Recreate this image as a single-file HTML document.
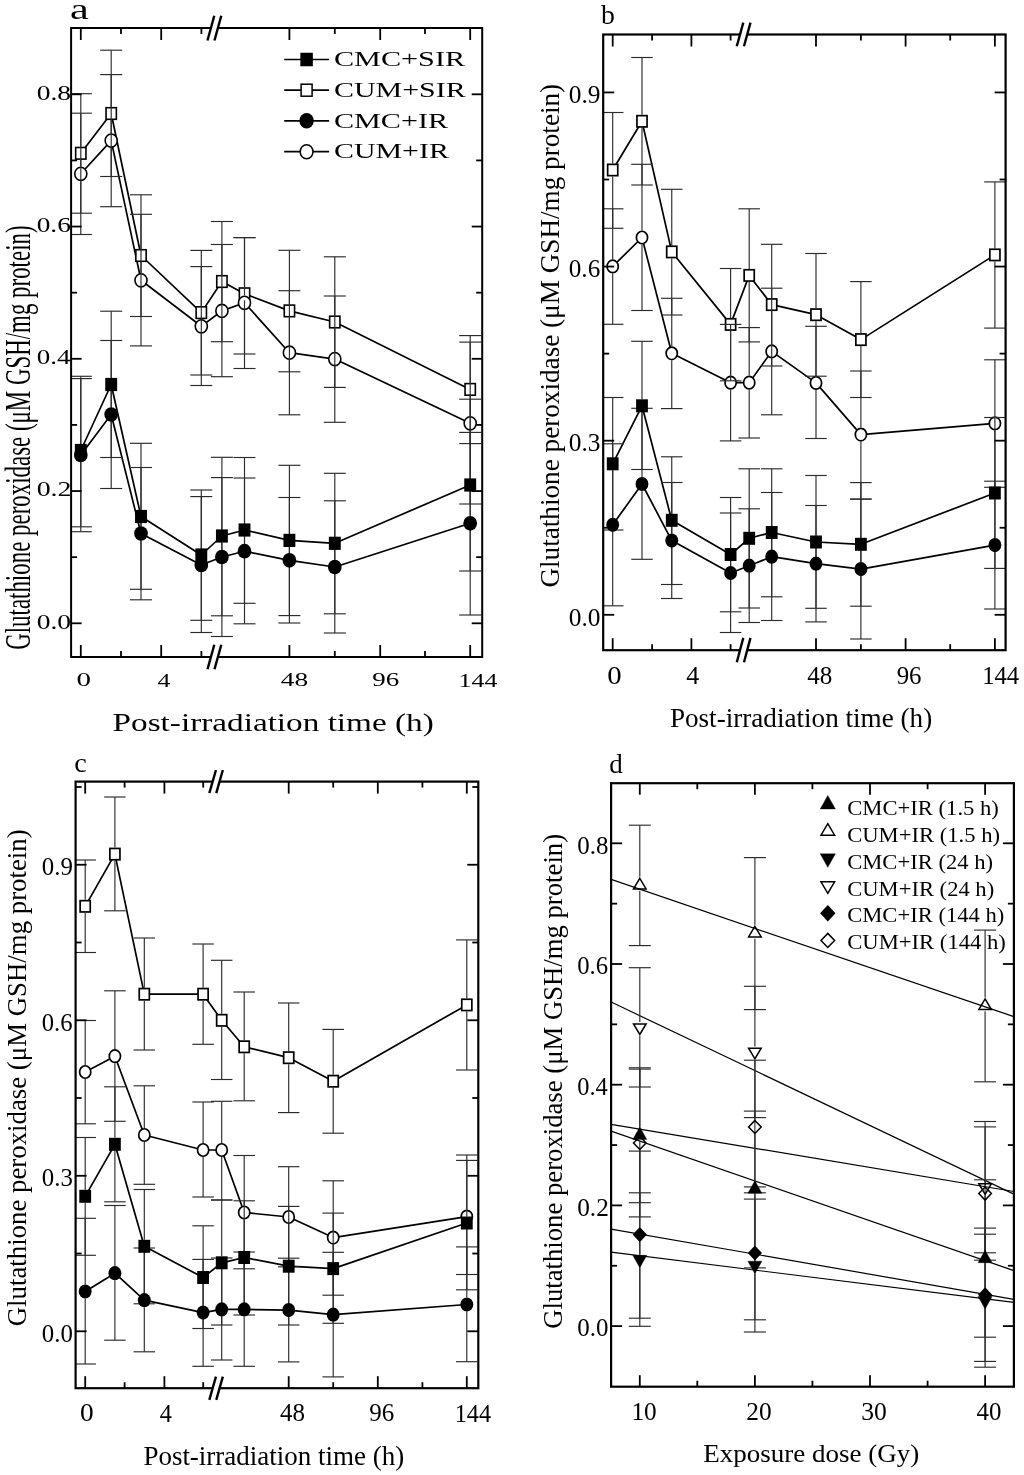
<!DOCTYPE html>
<html><head><meta charset="utf-8"><title>Glutathione peroxidase</title>
<style>html,body{margin:0;padding:0;background:#fff;}svg{display:block;will-change:transform;}text{font-family:"Liberation Serif",serif;}</style></head>
<body><svg width="1024" height="1475" viewBox="0 0 1024 1475">
<rect width="1024" height="1475" fill="#fff"/>
<polyline points="80.80,153.30 111.20,113.50 141.00,255.50 201.30,312.60 221.90,281.50 244.50,293.80 289.40,310.90 334.80,322.00 470.20,389.40" fill="none" stroke="#000" stroke-width="1.7" stroke-linejoin="round"/>
<polyline points="80.80,173.80 111.20,140.60 141.00,280.30 201.30,326.30 221.90,310.90 244.50,302.80 289.40,352.70 334.80,359.10 470.20,423.30" fill="none" stroke="#000" stroke-width="1.7" stroke-linejoin="round"/>
<polyline points="80.80,450.50 111.20,384.50 141.00,516.50 201.30,555.00 221.90,536.00 244.50,530.00 289.40,540.40 334.80,543.30 470.20,485.00" fill="none" stroke="#000" stroke-width="1.7" stroke-linejoin="round"/>
<polyline points="80.80,455.00 111.20,414.50 141.00,533.50 201.30,565.00 221.90,557.00 244.50,551.20 289.40,560.30 334.80,567.00 470.20,523.30" fill="none" stroke="#000" stroke-width="1.7" stroke-linejoin="round"/>
<rect x="75.65" y="147.50" width="10.30" height="11.60" fill="#fff" stroke="#000" stroke-width="1.6"/>
<rect x="106.05" y="107.70" width="10.30" height="11.60" fill="#fff" stroke="#000" stroke-width="1.6"/>
<rect x="135.85" y="249.70" width="10.30" height="11.60" fill="#fff" stroke="#000" stroke-width="1.6"/>
<rect x="196.15" y="306.80" width="10.30" height="11.60" fill="#fff" stroke="#000" stroke-width="1.6"/>
<rect x="216.75" y="275.70" width="10.30" height="11.60" fill="#fff" stroke="#000" stroke-width="1.6"/>
<rect x="239.35" y="288.00" width="10.30" height="11.60" fill="#fff" stroke="#000" stroke-width="1.6"/>
<rect x="284.25" y="305.10" width="10.30" height="11.60" fill="#fff" stroke="#000" stroke-width="1.6"/>
<rect x="329.65" y="316.20" width="10.30" height="11.60" fill="#fff" stroke="#000" stroke-width="1.6"/>
<rect x="465.05" y="383.60" width="10.30" height="11.60" fill="#fff" stroke="#000" stroke-width="1.6"/>
<ellipse cx="80.80" cy="173.80" rx="6.05" ry="6.55" fill="#fff" stroke="#000" stroke-width="1.6"/>
<ellipse cx="111.20" cy="140.60" rx="6.05" ry="6.55" fill="#fff" stroke="#000" stroke-width="1.6"/>
<ellipse cx="141.00" cy="280.30" rx="6.05" ry="6.55" fill="#fff" stroke="#000" stroke-width="1.6"/>
<ellipse cx="201.30" cy="326.30" rx="6.05" ry="6.55" fill="#fff" stroke="#000" stroke-width="1.6"/>
<ellipse cx="221.90" cy="310.90" rx="6.05" ry="6.55" fill="#fff" stroke="#000" stroke-width="1.6"/>
<ellipse cx="244.50" cy="302.80" rx="6.05" ry="6.55" fill="#fff" stroke="#000" stroke-width="1.6"/>
<ellipse cx="289.40" cy="352.70" rx="6.05" ry="6.55" fill="#fff" stroke="#000" stroke-width="1.6"/>
<ellipse cx="334.80" cy="359.10" rx="6.05" ry="6.55" fill="#fff" stroke="#000" stroke-width="1.6"/>
<ellipse cx="470.20" cy="423.30" rx="6.05" ry="6.55" fill="#fff" stroke="#000" stroke-width="1.6"/>
<line x1="80.80" y1="93.70" x2="80.80" y2="146.70" stroke="#2b2b2b" stroke-width="1.15" stroke-linecap="butt"/>
<line x1="80.80" y1="159.90" x2="80.80" y2="213.20" stroke="#2b2b2b" stroke-width="1.15" stroke-linecap="butt"/>
<line x1="71.10" y1="93.70" x2="91.80" y2="93.70" stroke="#2b2b2b" stroke-width="1.15" stroke-linecap="butt"/>
<line x1="71.10" y1="213.20" x2="91.80" y2="213.20" stroke="#2b2b2b" stroke-width="1.15" stroke-linecap="butt"/>
<line x1="111.20" y1="50.20" x2="111.20" y2="106.90" stroke="#2b2b2b" stroke-width="1.15" stroke-linecap="butt"/>
<line x1="111.20" y1="120.10" x2="111.20" y2="176.50" stroke="#2b2b2b" stroke-width="1.15" stroke-linecap="butt"/>
<line x1="100.20" y1="50.20" x2="122.20" y2="50.20" stroke="#2b2b2b" stroke-width="1.15" stroke-linecap="butt"/>
<line x1="100.20" y1="176.50" x2="122.20" y2="176.50" stroke="#2b2b2b" stroke-width="1.15" stroke-linecap="butt"/>
<line x1="141.00" y1="194.80" x2="141.00" y2="248.90" stroke="#2b2b2b" stroke-width="1.15" stroke-linecap="butt"/>
<line x1="141.00" y1="262.10" x2="141.00" y2="316.50" stroke="#2b2b2b" stroke-width="1.15" stroke-linecap="butt"/>
<line x1="130.00" y1="194.80" x2="152.00" y2="194.80" stroke="#2b2b2b" stroke-width="1.15" stroke-linecap="butt"/>
<line x1="130.00" y1="316.50" x2="152.00" y2="316.50" stroke="#2b2b2b" stroke-width="1.15" stroke-linecap="butt"/>
<line x1="201.30" y1="250.40" x2="201.30" y2="306.00" stroke="#2b2b2b" stroke-width="1.15" stroke-linecap="butt"/>
<line x1="201.30" y1="319.20" x2="201.30" y2="375.00" stroke="#2b2b2b" stroke-width="1.15" stroke-linecap="butt"/>
<line x1="190.30" y1="250.40" x2="212.30" y2="250.40" stroke="#2b2b2b" stroke-width="1.15" stroke-linecap="butt"/>
<line x1="190.30" y1="375.00" x2="212.30" y2="375.00" stroke="#2b2b2b" stroke-width="1.15" stroke-linecap="butt"/>
<line x1="221.90" y1="221.50" x2="221.90" y2="274.90" stroke="#2b2b2b" stroke-width="1.15" stroke-linecap="butt"/>
<line x1="221.90" y1="288.10" x2="221.90" y2="341.70" stroke="#2b2b2b" stroke-width="1.15" stroke-linecap="butt"/>
<line x1="210.90" y1="221.50" x2="232.90" y2="221.50" stroke="#2b2b2b" stroke-width="1.15" stroke-linecap="butt"/>
<line x1="210.90" y1="341.70" x2="232.90" y2="341.70" stroke="#2b2b2b" stroke-width="1.15" stroke-linecap="butt"/>
<line x1="244.50" y1="237.60" x2="244.50" y2="287.20" stroke="#2b2b2b" stroke-width="1.15" stroke-linecap="butt"/>
<line x1="244.50" y1="300.40" x2="244.50" y2="354.00" stroke="#2b2b2b" stroke-width="1.15" stroke-linecap="butt"/>
<line x1="233.50" y1="237.60" x2="255.50" y2="237.60" stroke="#2b2b2b" stroke-width="1.15" stroke-linecap="butt"/>
<line x1="233.50" y1="354.00" x2="255.50" y2="354.00" stroke="#2b2b2b" stroke-width="1.15" stroke-linecap="butt"/>
<line x1="289.40" y1="250.30" x2="289.40" y2="304.30" stroke="#2b2b2b" stroke-width="1.15" stroke-linecap="butt"/>
<line x1="289.40" y1="317.50" x2="289.40" y2="371.80" stroke="#2b2b2b" stroke-width="1.15" stroke-linecap="butt"/>
<line x1="278.40" y1="250.30" x2="300.40" y2="250.30" stroke="#2b2b2b" stroke-width="1.15" stroke-linecap="butt"/>
<line x1="278.40" y1="371.80" x2="300.40" y2="371.80" stroke="#2b2b2b" stroke-width="1.15" stroke-linecap="butt"/>
<line x1="334.80" y1="256.80" x2="334.80" y2="315.40" stroke="#2b2b2b" stroke-width="1.15" stroke-linecap="butt"/>
<line x1="334.80" y1="328.60" x2="334.80" y2="387.40" stroke="#2b2b2b" stroke-width="1.15" stroke-linecap="butt"/>
<line x1="323.80" y1="256.80" x2="345.80" y2="256.80" stroke="#2b2b2b" stroke-width="1.15" stroke-linecap="butt"/>
<line x1="323.80" y1="387.40" x2="345.80" y2="387.40" stroke="#2b2b2b" stroke-width="1.15" stroke-linecap="butt"/>
<line x1="470.20" y1="335.60" x2="470.20" y2="382.80" stroke="#2b2b2b" stroke-width="1.15" stroke-linecap="butt"/>
<line x1="470.20" y1="396.00" x2="470.20" y2="443.60" stroke="#2b2b2b" stroke-width="1.15" stroke-linecap="butt"/>
<line x1="459.20" y1="335.60" x2="481.20" y2="335.60" stroke="#2b2b2b" stroke-width="1.15" stroke-linecap="butt"/>
<line x1="459.20" y1="443.60" x2="481.20" y2="443.60" stroke="#2b2b2b" stroke-width="1.15" stroke-linecap="butt"/>
<line x1="80.80" y1="113.20" x2="80.80" y2="166.45" stroke="#2b2b2b" stroke-width="1.15" stroke-linecap="butt"/>
<line x1="80.80" y1="181.15" x2="80.80" y2="234.50" stroke="#2b2b2b" stroke-width="1.15" stroke-linecap="butt"/>
<line x1="71.10" y1="113.20" x2="91.80" y2="113.20" stroke="#2b2b2b" stroke-width="1.15" stroke-linecap="butt"/>
<line x1="71.10" y1="234.50" x2="91.80" y2="234.50" stroke="#2b2b2b" stroke-width="1.15" stroke-linecap="butt"/>
<line x1="111.20" y1="74.60" x2="111.20" y2="133.25" stroke="#2b2b2b" stroke-width="1.15" stroke-linecap="butt"/>
<line x1="111.20" y1="147.95" x2="111.20" y2="206.70" stroke="#2b2b2b" stroke-width="1.15" stroke-linecap="butt"/>
<line x1="100.20" y1="74.60" x2="122.20" y2="74.60" stroke="#2b2b2b" stroke-width="1.15" stroke-linecap="butt"/>
<line x1="100.20" y1="206.70" x2="122.20" y2="206.70" stroke="#2b2b2b" stroke-width="1.15" stroke-linecap="butt"/>
<line x1="141.00" y1="214.30" x2="141.00" y2="272.95" stroke="#2b2b2b" stroke-width="1.15" stroke-linecap="butt"/>
<line x1="141.00" y1="287.65" x2="141.00" y2="345.90" stroke="#2b2b2b" stroke-width="1.15" stroke-linecap="butt"/>
<line x1="130.00" y1="214.30" x2="152.00" y2="214.30" stroke="#2b2b2b" stroke-width="1.15" stroke-linecap="butt"/>
<line x1="130.00" y1="345.90" x2="152.00" y2="345.90" stroke="#2b2b2b" stroke-width="1.15" stroke-linecap="butt"/>
<line x1="201.30" y1="266.60" x2="201.30" y2="318.95" stroke="#2b2b2b" stroke-width="1.15" stroke-linecap="butt"/>
<line x1="201.30" y1="333.65" x2="201.30" y2="385.50" stroke="#2b2b2b" stroke-width="1.15" stroke-linecap="butt"/>
<line x1="190.30" y1="266.60" x2="212.30" y2="266.60" stroke="#2b2b2b" stroke-width="1.15" stroke-linecap="butt"/>
<line x1="190.30" y1="385.50" x2="212.30" y2="385.50" stroke="#2b2b2b" stroke-width="1.15" stroke-linecap="butt"/>
<line x1="221.90" y1="244.50" x2="221.90" y2="303.55" stroke="#2b2b2b" stroke-width="1.15" stroke-linecap="butt"/>
<line x1="221.90" y1="318.25" x2="221.90" y2="376.70" stroke="#2b2b2b" stroke-width="1.15" stroke-linecap="butt"/>
<line x1="210.90" y1="244.50" x2="232.90" y2="244.50" stroke="#2b2b2b" stroke-width="1.15" stroke-linecap="butt"/>
<line x1="210.90" y1="376.70" x2="232.90" y2="376.70" stroke="#2b2b2b" stroke-width="1.15" stroke-linecap="butt"/>
<line x1="244.50" y1="237.60" x2="244.50" y2="295.45" stroke="#2b2b2b" stroke-width="1.15" stroke-linecap="butt"/>
<line x1="244.50" y1="310.15" x2="244.50" y2="368.50" stroke="#2b2b2b" stroke-width="1.15" stroke-linecap="butt"/>
<line x1="233.50" y1="237.60" x2="255.50" y2="237.60" stroke="#2b2b2b" stroke-width="1.15" stroke-linecap="butt"/>
<line x1="233.50" y1="368.50" x2="255.50" y2="368.50" stroke="#2b2b2b" stroke-width="1.15" stroke-linecap="butt"/>
<line x1="289.40" y1="290.70" x2="289.40" y2="345.35" stroke="#2b2b2b" stroke-width="1.15" stroke-linecap="butt"/>
<line x1="289.40" y1="360.05" x2="289.40" y2="414.80" stroke="#2b2b2b" stroke-width="1.15" stroke-linecap="butt"/>
<line x1="278.40" y1="290.70" x2="300.40" y2="290.70" stroke="#2b2b2b" stroke-width="1.15" stroke-linecap="butt"/>
<line x1="278.40" y1="414.80" x2="300.40" y2="414.80" stroke="#2b2b2b" stroke-width="1.15" stroke-linecap="butt"/>
<line x1="334.80" y1="296.00" x2="334.80" y2="351.75" stroke="#2b2b2b" stroke-width="1.15" stroke-linecap="butt"/>
<line x1="334.80" y1="366.45" x2="334.80" y2="422.30" stroke="#2b2b2b" stroke-width="1.15" stroke-linecap="butt"/>
<line x1="323.80" y1="296.00" x2="345.80" y2="296.00" stroke="#2b2b2b" stroke-width="1.15" stroke-linecap="butt"/>
<line x1="323.80" y1="422.30" x2="345.80" y2="422.30" stroke="#2b2b2b" stroke-width="1.15" stroke-linecap="butt"/>
<line x1="470.20" y1="342.10" x2="470.20" y2="415.95" stroke="#2b2b2b" stroke-width="1.15" stroke-linecap="butt"/>
<line x1="470.20" y1="430.65" x2="470.20" y2="504.00" stroke="#2b2b2b" stroke-width="1.15" stroke-linecap="butt"/>
<line x1="459.20" y1="342.10" x2="481.20" y2="342.10" stroke="#2b2b2b" stroke-width="1.15" stroke-linecap="butt"/>
<line x1="459.20" y1="504.00" x2="481.20" y2="504.00" stroke="#2b2b2b" stroke-width="1.15" stroke-linecap="butt"/>
<line x1="80.80" y1="376.30" x2="80.80" y2="443.90" stroke="#2b2b2b" stroke-width="1.15" stroke-linecap="butt"/>
<line x1="80.80" y1="457.10" x2="80.80" y2="526.80" stroke="#2b2b2b" stroke-width="1.15" stroke-linecap="butt"/>
<line x1="71.10" y1="376.30" x2="91.80" y2="376.30" stroke="#2b2b2b" stroke-width="1.15" stroke-linecap="butt"/>
<line x1="71.10" y1="526.80" x2="91.80" y2="526.80" stroke="#2b2b2b" stroke-width="1.15" stroke-linecap="butt"/>
<line x1="111.20" y1="311.20" x2="111.20" y2="377.90" stroke="#2b2b2b" stroke-width="1.15" stroke-linecap="butt"/>
<line x1="111.20" y1="391.10" x2="111.20" y2="457.50" stroke="#2b2b2b" stroke-width="1.15" stroke-linecap="butt"/>
<line x1="100.20" y1="311.20" x2="122.20" y2="311.20" stroke="#2b2b2b" stroke-width="1.15" stroke-linecap="butt"/>
<line x1="100.20" y1="457.50" x2="122.20" y2="457.50" stroke="#2b2b2b" stroke-width="1.15" stroke-linecap="butt"/>
<line x1="141.00" y1="443.30" x2="141.00" y2="509.90" stroke="#2b2b2b" stroke-width="1.15" stroke-linecap="butt"/>
<line x1="141.00" y1="523.10" x2="141.00" y2="589.30" stroke="#2b2b2b" stroke-width="1.15" stroke-linecap="butt"/>
<line x1="130.00" y1="443.30" x2="152.00" y2="443.30" stroke="#2b2b2b" stroke-width="1.15" stroke-linecap="butt"/>
<line x1="130.00" y1="589.30" x2="152.00" y2="589.30" stroke="#2b2b2b" stroke-width="1.15" stroke-linecap="butt"/>
<line x1="201.30" y1="490.00" x2="201.30" y2="548.40" stroke="#2b2b2b" stroke-width="1.15" stroke-linecap="butt"/>
<line x1="201.30" y1="561.60" x2="201.30" y2="620.30" stroke="#2b2b2b" stroke-width="1.15" stroke-linecap="butt"/>
<line x1="190.30" y1="490.00" x2="212.30" y2="490.00" stroke="#2b2b2b" stroke-width="1.15" stroke-linecap="butt"/>
<line x1="190.30" y1="620.30" x2="212.30" y2="620.30" stroke="#2b2b2b" stroke-width="1.15" stroke-linecap="butt"/>
<line x1="221.90" y1="457.30" x2="221.90" y2="529.40" stroke="#2b2b2b" stroke-width="1.15" stroke-linecap="butt"/>
<line x1="221.90" y1="542.60" x2="221.90" y2="615.80" stroke="#2b2b2b" stroke-width="1.15" stroke-linecap="butt"/>
<line x1="210.90" y1="457.30" x2="232.90" y2="457.30" stroke="#2b2b2b" stroke-width="1.15" stroke-linecap="butt"/>
<line x1="210.90" y1="615.80" x2="232.90" y2="615.80" stroke="#2b2b2b" stroke-width="1.15" stroke-linecap="butt"/>
<line x1="244.50" y1="457.50" x2="244.50" y2="523.40" stroke="#2b2b2b" stroke-width="1.15" stroke-linecap="butt"/>
<line x1="244.50" y1="536.60" x2="244.50" y2="603.30" stroke="#2b2b2b" stroke-width="1.15" stroke-linecap="butt"/>
<line x1="233.50" y1="457.50" x2="255.50" y2="457.50" stroke="#2b2b2b" stroke-width="1.15" stroke-linecap="butt"/>
<line x1="233.50" y1="603.30" x2="255.50" y2="603.30" stroke="#2b2b2b" stroke-width="1.15" stroke-linecap="butt"/>
<line x1="289.40" y1="465.30" x2="289.40" y2="533.80" stroke="#2b2b2b" stroke-width="1.15" stroke-linecap="butt"/>
<line x1="289.40" y1="547.00" x2="289.40" y2="615.60" stroke="#2b2b2b" stroke-width="1.15" stroke-linecap="butt"/>
<line x1="278.40" y1="465.30" x2="300.40" y2="465.30" stroke="#2b2b2b" stroke-width="1.15" stroke-linecap="butt"/>
<line x1="278.40" y1="615.60" x2="300.40" y2="615.60" stroke="#2b2b2b" stroke-width="1.15" stroke-linecap="butt"/>
<line x1="334.80" y1="473.30" x2="334.80" y2="536.70" stroke="#2b2b2b" stroke-width="1.15" stroke-linecap="butt"/>
<line x1="334.80" y1="549.90" x2="334.80" y2="613.80" stroke="#2b2b2b" stroke-width="1.15" stroke-linecap="butt"/>
<line x1="323.80" y1="473.30" x2="345.80" y2="473.30" stroke="#2b2b2b" stroke-width="1.15" stroke-linecap="butt"/>
<line x1="323.80" y1="613.80" x2="345.80" y2="613.80" stroke="#2b2b2b" stroke-width="1.15" stroke-linecap="butt"/>
<line x1="470.20" y1="399.20" x2="470.20" y2="478.40" stroke="#2b2b2b" stroke-width="1.15" stroke-linecap="butt"/>
<line x1="470.20" y1="491.60" x2="470.20" y2="571.00" stroke="#2b2b2b" stroke-width="1.15" stroke-linecap="butt"/>
<line x1="459.20" y1="399.20" x2="481.20" y2="399.20" stroke="#2b2b2b" stroke-width="1.15" stroke-linecap="butt"/>
<line x1="459.20" y1="571.00" x2="481.20" y2="571.00" stroke="#2b2b2b" stroke-width="1.15" stroke-linecap="butt"/>
<line x1="80.80" y1="378.60" x2="80.80" y2="447.65" stroke="#2b2b2b" stroke-width="1.15" stroke-linecap="butt"/>
<line x1="80.80" y1="462.35" x2="80.80" y2="531.70" stroke="#2b2b2b" stroke-width="1.15" stroke-linecap="butt"/>
<line x1="71.10" y1="378.60" x2="91.80" y2="378.60" stroke="#2b2b2b" stroke-width="1.15" stroke-linecap="butt"/>
<line x1="71.10" y1="531.70" x2="91.80" y2="531.70" stroke="#2b2b2b" stroke-width="1.15" stroke-linecap="butt"/>
<line x1="111.20" y1="340.50" x2="111.20" y2="407.15" stroke="#2b2b2b" stroke-width="1.15" stroke-linecap="butt"/>
<line x1="111.20" y1="421.85" x2="111.20" y2="488.50" stroke="#2b2b2b" stroke-width="1.15" stroke-linecap="butt"/>
<line x1="100.20" y1="340.50" x2="122.20" y2="340.50" stroke="#2b2b2b" stroke-width="1.15" stroke-linecap="butt"/>
<line x1="100.20" y1="488.50" x2="122.20" y2="488.50" stroke="#2b2b2b" stroke-width="1.15" stroke-linecap="butt"/>
<line x1="141.00" y1="467.50" x2="141.00" y2="526.15" stroke="#2b2b2b" stroke-width="1.15" stroke-linecap="butt"/>
<line x1="141.00" y1="540.85" x2="141.00" y2="599.80" stroke="#2b2b2b" stroke-width="1.15" stroke-linecap="butt"/>
<line x1="130.00" y1="467.50" x2="152.00" y2="467.50" stroke="#2b2b2b" stroke-width="1.15" stroke-linecap="butt"/>
<line x1="130.00" y1="599.80" x2="152.00" y2="599.80" stroke="#2b2b2b" stroke-width="1.15" stroke-linecap="butt"/>
<line x1="201.30" y1="496.60" x2="201.30" y2="557.65" stroke="#2b2b2b" stroke-width="1.15" stroke-linecap="butt"/>
<line x1="201.30" y1="572.35" x2="201.30" y2="632.50" stroke="#2b2b2b" stroke-width="1.15" stroke-linecap="butt"/>
<line x1="190.30" y1="496.60" x2="212.30" y2="496.60" stroke="#2b2b2b" stroke-width="1.15" stroke-linecap="butt"/>
<line x1="190.30" y1="632.50" x2="212.30" y2="632.50" stroke="#2b2b2b" stroke-width="1.15" stroke-linecap="butt"/>
<line x1="221.90" y1="477.60" x2="221.90" y2="549.65" stroke="#2b2b2b" stroke-width="1.15" stroke-linecap="butt"/>
<line x1="221.90" y1="564.35" x2="221.90" y2="636.50" stroke="#2b2b2b" stroke-width="1.15" stroke-linecap="butt"/>
<line x1="210.90" y1="477.60" x2="232.90" y2="477.60" stroke="#2b2b2b" stroke-width="1.15" stroke-linecap="butt"/>
<line x1="210.90" y1="636.50" x2="232.90" y2="636.50" stroke="#2b2b2b" stroke-width="1.15" stroke-linecap="butt"/>
<line x1="244.50" y1="478.00" x2="244.50" y2="543.85" stroke="#2b2b2b" stroke-width="1.15" stroke-linecap="butt"/>
<line x1="244.50" y1="558.55" x2="244.50" y2="623.80" stroke="#2b2b2b" stroke-width="1.15" stroke-linecap="butt"/>
<line x1="233.50" y1="478.00" x2="255.50" y2="478.00" stroke="#2b2b2b" stroke-width="1.15" stroke-linecap="butt"/>
<line x1="233.50" y1="623.80" x2="255.50" y2="623.80" stroke="#2b2b2b" stroke-width="1.15" stroke-linecap="butt"/>
<line x1="289.40" y1="497.50" x2="289.40" y2="552.95" stroke="#2b2b2b" stroke-width="1.15" stroke-linecap="butt"/>
<line x1="289.40" y1="567.65" x2="289.40" y2="623.00" stroke="#2b2b2b" stroke-width="1.15" stroke-linecap="butt"/>
<line x1="278.40" y1="497.50" x2="300.40" y2="497.50" stroke="#2b2b2b" stroke-width="1.15" stroke-linecap="butt"/>
<line x1="278.40" y1="623.00" x2="300.40" y2="623.00" stroke="#2b2b2b" stroke-width="1.15" stroke-linecap="butt"/>
<line x1="334.80" y1="500.80" x2="334.80" y2="559.65" stroke="#2b2b2b" stroke-width="1.15" stroke-linecap="butt"/>
<line x1="334.80" y1="574.35" x2="334.80" y2="633.00" stroke="#2b2b2b" stroke-width="1.15" stroke-linecap="butt"/>
<line x1="323.80" y1="500.80" x2="345.80" y2="500.80" stroke="#2b2b2b" stroke-width="1.15" stroke-linecap="butt"/>
<line x1="323.80" y1="633.00" x2="345.80" y2="633.00" stroke="#2b2b2b" stroke-width="1.15" stroke-linecap="butt"/>
<line x1="470.20" y1="432.40" x2="470.20" y2="515.95" stroke="#2b2b2b" stroke-width="1.15" stroke-linecap="butt"/>
<line x1="470.20" y1="530.65" x2="470.20" y2="615.00" stroke="#2b2b2b" stroke-width="1.15" stroke-linecap="butt"/>
<line x1="459.20" y1="432.40" x2="481.20" y2="432.40" stroke="#2b2b2b" stroke-width="1.15" stroke-linecap="butt"/>
<line x1="459.20" y1="615.00" x2="481.20" y2="615.00" stroke="#2b2b2b" stroke-width="1.15" stroke-linecap="butt"/>
<rect x="74.85" y="443.90" width="11.90" height="13.20" fill="#000"/>
<rect x="105.25" y="377.90" width="11.90" height="13.20" fill="#000"/>
<rect x="135.05" y="509.90" width="11.90" height="13.20" fill="#000"/>
<rect x="195.35" y="548.40" width="11.90" height="13.20" fill="#000"/>
<rect x="215.95" y="529.40" width="11.90" height="13.20" fill="#000"/>
<rect x="238.55" y="523.40" width="11.90" height="13.20" fill="#000"/>
<rect x="283.45" y="533.80" width="11.90" height="13.20" fill="#000"/>
<rect x="328.85" y="536.70" width="11.90" height="13.20" fill="#000"/>
<rect x="464.25" y="478.40" width="11.90" height="13.20" fill="#000"/>
<ellipse cx="80.80" cy="455.00" rx="6.85" ry="7.35" fill="#000"/>
<ellipse cx="111.20" cy="414.50" rx="6.85" ry="7.35" fill="#000"/>
<ellipse cx="141.00" cy="533.50" rx="6.85" ry="7.35" fill="#000"/>
<ellipse cx="201.30" cy="565.00" rx="6.85" ry="7.35" fill="#000"/>
<ellipse cx="221.90" cy="557.00" rx="6.85" ry="7.35" fill="#000"/>
<ellipse cx="244.50" cy="551.20" rx="6.85" ry="7.35" fill="#000"/>
<ellipse cx="289.40" cy="560.30" rx="6.85" ry="7.35" fill="#000"/>
<ellipse cx="334.80" cy="567.00" rx="6.85" ry="7.35" fill="#000"/>
<ellipse cx="470.20" cy="523.30" rx="6.85" ry="7.35" fill="#000"/>
<rect x="71.10" y="28.00" width="411.10" height="629.00" fill="none" stroke="#000" stroke-width="2.0"/>
<line x1="71.10" y1="623.30" x2="81.60" y2="623.30" stroke="#000" stroke-width="1.8" stroke-linecap="butt"/>
<line x1="71.10" y1="491.05" x2="81.60" y2="491.05" stroke="#000" stroke-width="1.8" stroke-linecap="butt"/>
<line x1="71.10" y1="358.80" x2="81.60" y2="358.80" stroke="#000" stroke-width="1.8" stroke-linecap="butt"/>
<line x1="71.10" y1="226.55" x2="81.60" y2="226.55" stroke="#000" stroke-width="1.8" stroke-linecap="butt"/>
<line x1="71.10" y1="94.30" x2="81.60" y2="94.30" stroke="#000" stroke-width="1.8" stroke-linecap="butt"/>
<line x1="71.10" y1="557.17" x2="77.10" y2="557.17" stroke="#000" stroke-width="1.8" stroke-linecap="butt"/>
<line x1="71.10" y1="424.92" x2="77.10" y2="424.92" stroke="#000" stroke-width="1.8" stroke-linecap="butt"/>
<line x1="71.10" y1="292.67" x2="77.10" y2="292.67" stroke="#000" stroke-width="1.8" stroke-linecap="butt"/>
<line x1="71.10" y1="160.43" x2="77.10" y2="160.43" stroke="#000" stroke-width="1.8" stroke-linecap="butt"/>
<line x1="482.20" y1="623.30" x2="471.70" y2="623.30" stroke="#000" stroke-width="1.8" stroke-linecap="butt"/>
<line x1="482.20" y1="491.05" x2="471.70" y2="491.05" stroke="#000" stroke-width="1.8" stroke-linecap="butt"/>
<line x1="482.20" y1="358.80" x2="471.70" y2="358.80" stroke="#000" stroke-width="1.8" stroke-linecap="butt"/>
<line x1="482.20" y1="226.55" x2="471.70" y2="226.55" stroke="#000" stroke-width="1.8" stroke-linecap="butt"/>
<line x1="482.20" y1="94.30" x2="471.70" y2="94.30" stroke="#000" stroke-width="1.8" stroke-linecap="butt"/>
<line x1="482.20" y1="557.17" x2="476.20" y2="557.17" stroke="#000" stroke-width="1.8" stroke-linecap="butt"/>
<line x1="482.20" y1="424.92" x2="476.20" y2="424.92" stroke="#000" stroke-width="1.8" stroke-linecap="butt"/>
<line x1="482.20" y1="292.67" x2="476.20" y2="292.67" stroke="#000" stroke-width="1.8" stroke-linecap="butt"/>
<line x1="482.20" y1="160.43" x2="476.20" y2="160.43" stroke="#000" stroke-width="1.8" stroke-linecap="butt"/>
<line x1="80.80" y1="657.00" x2="80.80" y2="645.00" stroke="#000" stroke-width="1.8" stroke-linecap="butt"/>
<line x1="161.20" y1="657.00" x2="161.20" y2="645.00" stroke="#000" stroke-width="1.8" stroke-linecap="butt"/>
<line x1="289.40" y1="657.00" x2="289.40" y2="645.00" stroke="#000" stroke-width="1.8" stroke-linecap="butt"/>
<line x1="380.20" y1="657.00" x2="380.20" y2="645.00" stroke="#000" stroke-width="1.8" stroke-linecap="butt"/>
<line x1="470.20" y1="657.00" x2="470.20" y2="645.00" stroke="#000" stroke-width="1.8" stroke-linecap="butt"/>
<line x1="121.00" y1="657.00" x2="121.00" y2="651.00" stroke="#000" stroke-width="1.8" stroke-linecap="butt"/>
<line x1="201.40" y1="657.00" x2="201.40" y2="651.00" stroke="#000" stroke-width="1.8" stroke-linecap="butt"/>
<line x1="334.80" y1="657.00" x2="334.80" y2="651.00" stroke="#000" stroke-width="1.8" stroke-linecap="butt"/>
<line x1="425.00" y1="657.00" x2="425.00" y2="651.00" stroke="#000" stroke-width="1.8" stroke-linecap="butt"/>
<line x1="80.80" y1="28.00" x2="80.80" y2="40.00" stroke="#000" stroke-width="1.8" stroke-linecap="butt"/>
<line x1="161.20" y1="28.00" x2="161.20" y2="40.00" stroke="#000" stroke-width="1.8" stroke-linecap="butt"/>
<line x1="289.40" y1="28.00" x2="289.40" y2="40.00" stroke="#000" stroke-width="1.8" stroke-linecap="butt"/>
<line x1="380.20" y1="28.00" x2="380.20" y2="40.00" stroke="#000" stroke-width="1.8" stroke-linecap="butt"/>
<line x1="470.20" y1="28.00" x2="470.20" y2="40.00" stroke="#000" stroke-width="1.8" stroke-linecap="butt"/>
<line x1="121.00" y1="28.00" x2="121.00" y2="34.00" stroke="#000" stroke-width="1.8" stroke-linecap="butt"/>
<line x1="201.40" y1="28.00" x2="201.40" y2="34.00" stroke="#000" stroke-width="1.8" stroke-linecap="butt"/>
<line x1="334.80" y1="28.00" x2="334.80" y2="34.00" stroke="#000" stroke-width="1.8" stroke-linecap="butt"/>
<line x1="425.00" y1="28.00" x2="425.00" y2="34.00" stroke="#000" stroke-width="1.8" stroke-linecap="butt"/>
<rect x="210.90" y="26.00" width="7.00" height="4" fill="#fff"/>
<line x1="207.47" y1="40.50" x2="214.27" y2="15.70" stroke="#000" stroke-width="2.4" stroke-linecap="butt"/>
<line x1="214.47" y1="40.50" x2="221.27" y2="15.70" stroke="#000" stroke-width="2.4" stroke-linecap="butt"/>
<rect x="210.90" y="655.00" width="7.00" height="4" fill="#fff"/>
<line x1="207.50" y1="669.30" x2="214.30" y2="644.70" stroke="#000" stroke-width="2.4" stroke-linecap="butt"/>
<line x1="214.50" y1="669.30" x2="221.30" y2="644.70" stroke="#000" stroke-width="2.4" stroke-linecap="butt"/>
<text x="36.70" y="628.74" font-size="20.44" textLength="34.40" lengthAdjust="spacingAndGlyphs" fill="#000">0.0</text>
<text x="36.68" y="496.49" font-size="20.44" textLength="34.85" lengthAdjust="spacingAndGlyphs" fill="#000">0.2</text>
<text x="36.72" y="364.24" font-size="20.44" textLength="33.68" lengthAdjust="spacingAndGlyphs" fill="#000">0.4</text>
<text x="36.71" y="231.99" font-size="20.44" textLength="34.11" lengthAdjust="spacingAndGlyphs" fill="#000">0.6</text>
<text x="36.70" y="99.74" font-size="20.44" textLength="34.40" lengthAdjust="spacingAndGlyphs" fill="#000">0.8</text>
<text x="76.44" y="686.41" font-size="19.41" textLength="14.52" lengthAdjust="spacingAndGlyphs" fill="#000">0</text>
<text x="157.48" y="686.60" font-size="19.85" textLength="12.90" lengthAdjust="spacingAndGlyphs" fill="#000">4</text>
<text x="280.75" y="686.41" font-size="19.41" textLength="27.34" lengthAdjust="spacingAndGlyphs" fill="#000">48</text>
<text x="372.19" y="686.40" font-size="19.55" textLength="26.91" lengthAdjust="spacingAndGlyphs" fill="#000">96</text>
<text x="458.46" y="686.60" font-size="19.85" textLength="38.92" lengthAdjust="spacingAndGlyphs" fill="#000">144</text>
<text x="112.60" y="731.10" font-size="24.60" textLength="321.18" lengthAdjust="spacingAndGlyphs">Post-irradiation time (h)</text>
<text transform="translate(30.40,649.82) rotate(-90)" x="0" y="0" font-size="35.00" textLength="424.39" lengthAdjust="spacingAndGlyphs">Glutathione peroxidase (μM GSH/mg protein)</text>
<text x="69.92" y="18.71" font-size="28.54" textLength="18.76" lengthAdjust="spacingAndGlyphs" fill="#000">a</text>
<line x1="284.20" y1="59.50" x2="329.10" y2="59.50" stroke="#000" stroke-width="1.7" stroke-linecap="butt"/>
<rect x="300.35" y="52.75" width="12.50" height="13.50" fill="#000"/>
<text x="333.99" y="66.29" font-size="20.75" textLength="131.11" lengthAdjust="spacingAndGlyphs" fill="#000">CMC+SIR</text>
<line x1="284.20" y1="90.20" x2="329.10" y2="90.20" stroke="#000" stroke-width="1.7" stroke-linecap="butt"/>
<rect x="301.10" y="84.20" width="11.00" height="12.00" fill="#fff" stroke="#000" stroke-width="1.5"/>
<text x="334.00" y="96.99" font-size="20.75" textLength="131.71" lengthAdjust="spacingAndGlyphs" fill="#000">CUM+SIR</text>
<line x1="284.20" y1="120.80" x2="329.10" y2="120.80" stroke="#000" stroke-width="1.7" stroke-linecap="butt"/>
<ellipse cx="306.60" cy="120.80" rx="7.15" ry="7.75" fill="#000"/>
<text x="334.00" y="127.59" font-size="20.75" textLength="114.07" lengthAdjust="spacingAndGlyphs" fill="#000">CMC+IR</text>
<line x1="284.20" y1="151.70" x2="329.10" y2="151.70" stroke="#000" stroke-width="1.7" stroke-linecap="butt"/>
<ellipse cx="306.60" cy="151.70" rx="6.40" ry="7.00" fill="#fff" stroke="#000" stroke-width="1.5"/>
<text x="334.00" y="158.49" font-size="20.75" textLength="114.87" lengthAdjust="spacingAndGlyphs" fill="#000">CUM+IR</text>
<polyline points="612.70,170.00 642.00,121.30 671.75,251.90 730.60,324.40 749.20,275.40 771.70,304.60 816.00,314.70 860.90,339.60 994.90,254.90" fill="none" stroke="#000" stroke-width="1.7" stroke-linejoin="round"/>
<polyline points="612.70,266.40 642.00,237.50 671.75,353.30 730.60,382.70 749.20,382.70 771.70,351.40 816.00,382.90 860.90,434.60 994.90,423.40" fill="none" stroke="#000" stroke-width="1.7" stroke-linejoin="round"/>
<polyline points="612.70,463.80 642.00,405.80 671.75,520.30 730.60,554.50 749.20,538.30 771.70,532.50 816.00,542.00 860.90,544.30 994.90,493.00" fill="none" stroke="#000" stroke-width="1.7" stroke-linejoin="round"/>
<polyline points="612.70,524.80 642.00,484.00 671.75,540.60 730.60,573.00 749.20,565.70 771.70,556.70 816.00,563.70 860.90,569.10 994.90,545.10" fill="none" stroke="#000" stroke-width="1.7" stroke-linejoin="round"/>
<rect x="607.65" y="164.35" width="10.10" height="11.30" fill="#fff" stroke="#000" stroke-width="1.7"/>
<rect x="636.95" y="115.65" width="10.10" height="11.30" fill="#fff" stroke="#000" stroke-width="1.7"/>
<rect x="666.70" y="246.25" width="10.10" height="11.30" fill="#fff" stroke="#000" stroke-width="1.7"/>
<rect x="725.55" y="318.75" width="10.10" height="11.30" fill="#fff" stroke="#000" stroke-width="1.7"/>
<rect x="744.15" y="269.75" width="10.10" height="11.30" fill="#fff" stroke="#000" stroke-width="1.7"/>
<rect x="766.65" y="298.95" width="10.10" height="11.30" fill="#fff" stroke="#000" stroke-width="1.7"/>
<rect x="810.95" y="309.05" width="10.10" height="11.30" fill="#fff" stroke="#000" stroke-width="1.7"/>
<rect x="855.85" y="333.95" width="10.10" height="11.30" fill="#fff" stroke="#000" stroke-width="1.7"/>
<rect x="989.85" y="249.25" width="10.10" height="11.30" fill="#fff" stroke="#000" stroke-width="1.7"/>
<ellipse cx="612.70" cy="266.40" rx="5.60" ry="6.25" fill="#fff" stroke="#000" stroke-width="1.7"/>
<ellipse cx="642.00" cy="237.50" rx="5.60" ry="6.25" fill="#fff" stroke="#000" stroke-width="1.7"/>
<ellipse cx="671.75" cy="353.30" rx="5.60" ry="6.25" fill="#fff" stroke="#000" stroke-width="1.7"/>
<ellipse cx="730.60" cy="382.70" rx="5.60" ry="6.25" fill="#fff" stroke="#000" stroke-width="1.7"/>
<ellipse cx="749.20" cy="382.70" rx="5.60" ry="6.25" fill="#fff" stroke="#000" stroke-width="1.7"/>
<ellipse cx="771.70" cy="351.40" rx="5.60" ry="6.25" fill="#fff" stroke="#000" stroke-width="1.7"/>
<ellipse cx="816.00" cy="382.90" rx="5.60" ry="6.25" fill="#fff" stroke="#000" stroke-width="1.7"/>
<ellipse cx="860.90" cy="434.60" rx="5.60" ry="6.25" fill="#fff" stroke="#000" stroke-width="1.7"/>
<ellipse cx="994.90" cy="423.40" rx="5.60" ry="6.25" fill="#fff" stroke="#000" stroke-width="1.7"/>
<line x1="612.70" y1="112.50" x2="612.70" y2="163.50" stroke="#2b2b2b" stroke-width="1.15" stroke-linecap="butt"/>
<line x1="612.70" y1="176.50" x2="612.70" y2="228.30" stroke="#2b2b2b" stroke-width="1.15" stroke-linecap="butt"/>
<line x1="603.20" y1="112.50" x2="623.45" y2="112.50" stroke="#2b2b2b" stroke-width="1.15" stroke-linecap="butt"/>
<line x1="603.20" y1="228.30" x2="623.45" y2="228.30" stroke="#2b2b2b" stroke-width="1.15" stroke-linecap="butt"/>
<line x1="642.00" y1="57.50" x2="642.00" y2="114.80" stroke="#2b2b2b" stroke-width="1.15" stroke-linecap="butt"/>
<line x1="642.00" y1="127.80" x2="642.00" y2="185.00" stroke="#2b2b2b" stroke-width="1.15" stroke-linecap="butt"/>
<line x1="631.25" y1="57.50" x2="652.75" y2="57.50" stroke="#2b2b2b" stroke-width="1.15" stroke-linecap="butt"/>
<line x1="631.25" y1="185.00" x2="652.75" y2="185.00" stroke="#2b2b2b" stroke-width="1.15" stroke-linecap="butt"/>
<line x1="671.75" y1="189.30" x2="671.75" y2="245.40" stroke="#2b2b2b" stroke-width="1.15" stroke-linecap="butt"/>
<line x1="671.75" y1="258.40" x2="671.75" y2="315.00" stroke="#2b2b2b" stroke-width="1.15" stroke-linecap="butt"/>
<line x1="661.00" y1="189.30" x2="682.50" y2="189.30" stroke="#2b2b2b" stroke-width="1.15" stroke-linecap="butt"/>
<line x1="661.00" y1="315.00" x2="682.50" y2="315.00" stroke="#2b2b2b" stroke-width="1.15" stroke-linecap="butt"/>
<line x1="730.60" y1="268.50" x2="730.60" y2="317.90" stroke="#2b2b2b" stroke-width="1.15" stroke-linecap="butt"/>
<line x1="730.60" y1="330.90" x2="730.60" y2="380.80" stroke="#2b2b2b" stroke-width="1.15" stroke-linecap="butt"/>
<line x1="719.85" y1="268.50" x2="741.35" y2="268.50" stroke="#2b2b2b" stroke-width="1.15" stroke-linecap="butt"/>
<line x1="719.85" y1="380.80" x2="741.35" y2="380.80" stroke="#2b2b2b" stroke-width="1.15" stroke-linecap="butt"/>
<line x1="749.20" y1="208.80" x2="749.20" y2="268.90" stroke="#2b2b2b" stroke-width="1.15" stroke-linecap="butt"/>
<line x1="749.20" y1="281.90" x2="749.20" y2="341.90" stroke="#2b2b2b" stroke-width="1.15" stroke-linecap="butt"/>
<line x1="738.45" y1="208.80" x2="759.95" y2="208.80" stroke="#2b2b2b" stroke-width="1.15" stroke-linecap="butt"/>
<line x1="738.45" y1="341.90" x2="759.95" y2="341.90" stroke="#2b2b2b" stroke-width="1.15" stroke-linecap="butt"/>
<line x1="771.70" y1="244.30" x2="771.70" y2="298.10" stroke="#2b2b2b" stroke-width="1.15" stroke-linecap="butt"/>
<line x1="771.70" y1="311.10" x2="771.70" y2="366.00" stroke="#2b2b2b" stroke-width="1.15" stroke-linecap="butt"/>
<line x1="760.95" y1="244.30" x2="782.45" y2="244.30" stroke="#2b2b2b" stroke-width="1.15" stroke-linecap="butt"/>
<line x1="760.95" y1="366.00" x2="782.45" y2="366.00" stroke="#2b2b2b" stroke-width="1.15" stroke-linecap="butt"/>
<line x1="816.00" y1="253.50" x2="816.00" y2="308.20" stroke="#2b2b2b" stroke-width="1.15" stroke-linecap="butt"/>
<line x1="816.00" y1="321.20" x2="816.00" y2="376.20" stroke="#2b2b2b" stroke-width="1.15" stroke-linecap="butt"/>
<line x1="805.25" y1="253.50" x2="826.75" y2="253.50" stroke="#2b2b2b" stroke-width="1.15" stroke-linecap="butt"/>
<line x1="805.25" y1="376.20" x2="826.75" y2="376.20" stroke="#2b2b2b" stroke-width="1.15" stroke-linecap="butt"/>
<line x1="860.90" y1="281.60" x2="860.90" y2="333.10" stroke="#2b2b2b" stroke-width="1.15" stroke-linecap="butt"/>
<line x1="860.90" y1="346.10" x2="860.90" y2="397.50" stroke="#2b2b2b" stroke-width="1.15" stroke-linecap="butt"/>
<line x1="850.15" y1="281.60" x2="871.65" y2="281.60" stroke="#2b2b2b" stroke-width="1.15" stroke-linecap="butt"/>
<line x1="850.15" y1="397.50" x2="871.65" y2="397.50" stroke="#2b2b2b" stroke-width="1.15" stroke-linecap="butt"/>
<line x1="994.90" y1="181.90" x2="994.90" y2="248.40" stroke="#2b2b2b" stroke-width="1.15" stroke-linecap="butt"/>
<line x1="994.90" y1="261.40" x2="994.90" y2="328.10" stroke="#2b2b2b" stroke-width="1.15" stroke-linecap="butt"/>
<line x1="984.15" y1="181.90" x2="1005.60" y2="181.90" stroke="#2b2b2b" stroke-width="1.15" stroke-linecap="butt"/>
<line x1="984.15" y1="328.10" x2="1005.60" y2="328.10" stroke="#2b2b2b" stroke-width="1.15" stroke-linecap="butt"/>
<line x1="612.70" y1="208.80" x2="612.70" y2="259.30" stroke="#2b2b2b" stroke-width="1.15" stroke-linecap="butt"/>
<line x1="612.70" y1="273.50" x2="612.70" y2="324.30" stroke="#2b2b2b" stroke-width="1.15" stroke-linecap="butt"/>
<line x1="603.20" y1="208.80" x2="623.45" y2="208.80" stroke="#2b2b2b" stroke-width="1.15" stroke-linecap="butt"/>
<line x1="603.20" y1="324.30" x2="623.45" y2="324.30" stroke="#2b2b2b" stroke-width="1.15" stroke-linecap="butt"/>
<line x1="642.00" y1="164.30" x2="642.00" y2="230.40" stroke="#2b2b2b" stroke-width="1.15" stroke-linecap="butt"/>
<line x1="642.00" y1="244.60" x2="642.00" y2="310.50" stroke="#2b2b2b" stroke-width="1.15" stroke-linecap="butt"/>
<line x1="631.25" y1="164.30" x2="652.75" y2="164.30" stroke="#2b2b2b" stroke-width="1.15" stroke-linecap="butt"/>
<line x1="631.25" y1="310.50" x2="652.75" y2="310.50" stroke="#2b2b2b" stroke-width="1.15" stroke-linecap="butt"/>
<line x1="671.75" y1="298.30" x2="671.75" y2="346.20" stroke="#2b2b2b" stroke-width="1.15" stroke-linecap="butt"/>
<line x1="671.75" y1="360.40" x2="671.75" y2="408.60" stroke="#2b2b2b" stroke-width="1.15" stroke-linecap="butt"/>
<line x1="661.00" y1="298.30" x2="682.50" y2="298.30" stroke="#2b2b2b" stroke-width="1.15" stroke-linecap="butt"/>
<line x1="661.00" y1="408.60" x2="682.50" y2="408.60" stroke="#2b2b2b" stroke-width="1.15" stroke-linecap="butt"/>
<line x1="730.60" y1="324.40" x2="730.60" y2="375.60" stroke="#2b2b2b" stroke-width="1.15" stroke-linecap="butt"/>
<line x1="730.60" y1="389.80" x2="730.60" y2="440.90" stroke="#2b2b2b" stroke-width="1.15" stroke-linecap="butt"/>
<line x1="719.85" y1="324.40" x2="741.35" y2="324.40" stroke="#2b2b2b" stroke-width="1.15" stroke-linecap="butt"/>
<line x1="719.85" y1="440.90" x2="741.35" y2="440.90" stroke="#2b2b2b" stroke-width="1.15" stroke-linecap="butt"/>
<line x1="749.20" y1="327.60" x2="749.20" y2="375.60" stroke="#2b2b2b" stroke-width="1.15" stroke-linecap="butt"/>
<line x1="749.20" y1="389.80" x2="749.20" y2="438.00" stroke="#2b2b2b" stroke-width="1.15" stroke-linecap="butt"/>
<line x1="738.45" y1="327.60" x2="759.95" y2="327.60" stroke="#2b2b2b" stroke-width="1.15" stroke-linecap="butt"/>
<line x1="738.45" y1="438.00" x2="759.95" y2="438.00" stroke="#2b2b2b" stroke-width="1.15" stroke-linecap="butt"/>
<line x1="771.70" y1="288.20" x2="771.70" y2="344.30" stroke="#2b2b2b" stroke-width="1.15" stroke-linecap="butt"/>
<line x1="771.70" y1="358.50" x2="771.70" y2="414.80" stroke="#2b2b2b" stroke-width="1.15" stroke-linecap="butt"/>
<line x1="760.95" y1="288.20" x2="782.45" y2="288.20" stroke="#2b2b2b" stroke-width="1.15" stroke-linecap="butt"/>
<line x1="760.95" y1="414.80" x2="782.45" y2="414.80" stroke="#2b2b2b" stroke-width="1.15" stroke-linecap="butt"/>
<line x1="816.00" y1="326.30" x2="816.00" y2="375.80" stroke="#2b2b2b" stroke-width="1.15" stroke-linecap="butt"/>
<line x1="816.00" y1="390.00" x2="816.00" y2="438.50" stroke="#2b2b2b" stroke-width="1.15" stroke-linecap="butt"/>
<line x1="805.25" y1="326.30" x2="826.75" y2="326.30" stroke="#2b2b2b" stroke-width="1.15" stroke-linecap="butt"/>
<line x1="805.25" y1="438.50" x2="826.75" y2="438.50" stroke="#2b2b2b" stroke-width="1.15" stroke-linecap="butt"/>
<line x1="860.90" y1="371.00" x2="860.90" y2="427.50" stroke="#2b2b2b" stroke-width="1.15" stroke-linecap="butt"/>
<line x1="860.90" y1="441.70" x2="860.90" y2="499.00" stroke="#2b2b2b" stroke-width="1.15" stroke-linecap="butt"/>
<line x1="850.15" y1="371.00" x2="871.65" y2="371.00" stroke="#2b2b2b" stroke-width="1.15" stroke-linecap="butt"/>
<line x1="850.15" y1="499.00" x2="871.65" y2="499.00" stroke="#2b2b2b" stroke-width="1.15" stroke-linecap="butt"/>
<line x1="994.90" y1="359.80" x2="994.90" y2="416.30" stroke="#2b2b2b" stroke-width="1.15" stroke-linecap="butt"/>
<line x1="994.90" y1="430.50" x2="994.90" y2="487.30" stroke="#2b2b2b" stroke-width="1.15" stroke-linecap="butt"/>
<line x1="984.15" y1="359.80" x2="1005.60" y2="359.80" stroke="#2b2b2b" stroke-width="1.15" stroke-linecap="butt"/>
<line x1="984.15" y1="487.30" x2="1005.60" y2="487.30" stroke="#2b2b2b" stroke-width="1.15" stroke-linecap="butt"/>
<line x1="612.70" y1="397.50" x2="612.70" y2="457.30" stroke="#2b2b2b" stroke-width="1.15" stroke-linecap="butt"/>
<line x1="612.70" y1="470.30" x2="612.70" y2="530.00" stroke="#2b2b2b" stroke-width="1.15" stroke-linecap="butt"/>
<line x1="603.20" y1="397.50" x2="623.45" y2="397.50" stroke="#2b2b2b" stroke-width="1.15" stroke-linecap="butt"/>
<line x1="603.20" y1="530.00" x2="623.45" y2="530.00" stroke="#2b2b2b" stroke-width="1.15" stroke-linecap="butt"/>
<line x1="642.00" y1="341.30" x2="642.00" y2="399.30" stroke="#2b2b2b" stroke-width="1.15" stroke-linecap="butt"/>
<line x1="642.00" y1="412.30" x2="642.00" y2="469.50" stroke="#2b2b2b" stroke-width="1.15" stroke-linecap="butt"/>
<line x1="631.25" y1="341.30" x2="652.75" y2="341.30" stroke="#2b2b2b" stroke-width="1.15" stroke-linecap="butt"/>
<line x1="631.25" y1="469.50" x2="652.75" y2="469.50" stroke="#2b2b2b" stroke-width="1.15" stroke-linecap="butt"/>
<line x1="671.75" y1="456.80" x2="671.75" y2="513.80" stroke="#2b2b2b" stroke-width="1.15" stroke-linecap="butt"/>
<line x1="671.75" y1="526.80" x2="671.75" y2="584.50" stroke="#2b2b2b" stroke-width="1.15" stroke-linecap="butt"/>
<line x1="661.00" y1="456.80" x2="682.50" y2="456.80" stroke="#2b2b2b" stroke-width="1.15" stroke-linecap="butt"/>
<line x1="661.00" y1="584.50" x2="682.50" y2="584.50" stroke="#2b2b2b" stroke-width="1.15" stroke-linecap="butt"/>
<line x1="730.60" y1="497.50" x2="730.60" y2="548.00" stroke="#2b2b2b" stroke-width="1.15" stroke-linecap="butt"/>
<line x1="730.60" y1="561.00" x2="730.60" y2="611.80" stroke="#2b2b2b" stroke-width="1.15" stroke-linecap="butt"/>
<line x1="719.85" y1="497.50" x2="741.35" y2="497.50" stroke="#2b2b2b" stroke-width="1.15" stroke-linecap="butt"/>
<line x1="719.85" y1="611.80" x2="741.35" y2="611.80" stroke="#2b2b2b" stroke-width="1.15" stroke-linecap="butt"/>
<line x1="749.20" y1="468.80" x2="749.20" y2="531.80" stroke="#2b2b2b" stroke-width="1.15" stroke-linecap="butt"/>
<line x1="749.20" y1="544.80" x2="749.20" y2="608.00" stroke="#2b2b2b" stroke-width="1.15" stroke-linecap="butt"/>
<line x1="738.45" y1="468.80" x2="759.95" y2="468.80" stroke="#2b2b2b" stroke-width="1.15" stroke-linecap="butt"/>
<line x1="738.45" y1="608.00" x2="759.95" y2="608.00" stroke="#2b2b2b" stroke-width="1.15" stroke-linecap="butt"/>
<line x1="771.70" y1="468.80" x2="771.70" y2="526.00" stroke="#2b2b2b" stroke-width="1.15" stroke-linecap="butt"/>
<line x1="771.70" y1="539.00" x2="771.70" y2="596.80" stroke="#2b2b2b" stroke-width="1.15" stroke-linecap="butt"/>
<line x1="760.95" y1="468.80" x2="782.45" y2="468.80" stroke="#2b2b2b" stroke-width="1.15" stroke-linecap="butt"/>
<line x1="760.95" y1="596.80" x2="782.45" y2="596.80" stroke="#2b2b2b" stroke-width="1.15" stroke-linecap="butt"/>
<line x1="816.00" y1="475.50" x2="816.00" y2="535.50" stroke="#2b2b2b" stroke-width="1.15" stroke-linecap="butt"/>
<line x1="816.00" y1="548.50" x2="816.00" y2="608.30" stroke="#2b2b2b" stroke-width="1.15" stroke-linecap="butt"/>
<line x1="805.25" y1="475.50" x2="826.75" y2="475.50" stroke="#2b2b2b" stroke-width="1.15" stroke-linecap="butt"/>
<line x1="805.25" y1="608.30" x2="826.75" y2="608.30" stroke="#2b2b2b" stroke-width="1.15" stroke-linecap="butt"/>
<line x1="860.90" y1="482.60" x2="860.90" y2="537.80" stroke="#2b2b2b" stroke-width="1.15" stroke-linecap="butt"/>
<line x1="860.90" y1="550.80" x2="860.90" y2="606.20" stroke="#2b2b2b" stroke-width="1.15" stroke-linecap="butt"/>
<line x1="850.15" y1="482.60" x2="871.65" y2="482.60" stroke="#2b2b2b" stroke-width="1.15" stroke-linecap="butt"/>
<line x1="850.15" y1="606.20" x2="871.65" y2="606.20" stroke="#2b2b2b" stroke-width="1.15" stroke-linecap="butt"/>
<line x1="994.90" y1="417.50" x2="994.90" y2="486.50" stroke="#2b2b2b" stroke-width="1.15" stroke-linecap="butt"/>
<line x1="994.90" y1="499.50" x2="994.90" y2="568.40" stroke="#2b2b2b" stroke-width="1.15" stroke-linecap="butt"/>
<line x1="984.15" y1="417.50" x2="1005.60" y2="417.50" stroke="#2b2b2b" stroke-width="1.15" stroke-linecap="butt"/>
<line x1="984.15" y1="568.40" x2="1005.60" y2="568.40" stroke="#2b2b2b" stroke-width="1.15" stroke-linecap="butt"/>
<line x1="612.70" y1="443.80" x2="612.70" y2="517.70" stroke="#2b2b2b" stroke-width="1.15" stroke-linecap="butt"/>
<line x1="612.70" y1="531.90" x2="612.70" y2="605.80" stroke="#2b2b2b" stroke-width="1.15" stroke-linecap="butt"/>
<line x1="603.20" y1="443.80" x2="623.45" y2="443.80" stroke="#2b2b2b" stroke-width="1.15" stroke-linecap="butt"/>
<line x1="603.20" y1="605.80" x2="623.45" y2="605.80" stroke="#2b2b2b" stroke-width="1.15" stroke-linecap="butt"/>
<line x1="642.00" y1="408.30" x2="642.00" y2="476.90" stroke="#2b2b2b" stroke-width="1.15" stroke-linecap="butt"/>
<line x1="642.00" y1="491.10" x2="642.00" y2="559.30" stroke="#2b2b2b" stroke-width="1.15" stroke-linecap="butt"/>
<line x1="631.25" y1="408.30" x2="652.75" y2="408.30" stroke="#2b2b2b" stroke-width="1.15" stroke-linecap="butt"/>
<line x1="631.25" y1="559.30" x2="652.75" y2="559.30" stroke="#2b2b2b" stroke-width="1.15" stroke-linecap="butt"/>
<line x1="671.75" y1="482.50" x2="671.75" y2="533.50" stroke="#2b2b2b" stroke-width="1.15" stroke-linecap="butt"/>
<line x1="671.75" y1="547.70" x2="671.75" y2="598.50" stroke="#2b2b2b" stroke-width="1.15" stroke-linecap="butt"/>
<line x1="661.00" y1="482.50" x2="682.50" y2="482.50" stroke="#2b2b2b" stroke-width="1.15" stroke-linecap="butt"/>
<line x1="661.00" y1="598.50" x2="682.50" y2="598.50" stroke="#2b2b2b" stroke-width="1.15" stroke-linecap="butt"/>
<line x1="730.60" y1="513.00" x2="730.60" y2="565.90" stroke="#2b2b2b" stroke-width="1.15" stroke-linecap="butt"/>
<line x1="730.60" y1="580.10" x2="730.60" y2="632.50" stroke="#2b2b2b" stroke-width="1.15" stroke-linecap="butt"/>
<line x1="719.85" y1="513.00" x2="741.35" y2="513.00" stroke="#2b2b2b" stroke-width="1.15" stroke-linecap="butt"/>
<line x1="719.85" y1="632.50" x2="741.35" y2="632.50" stroke="#2b2b2b" stroke-width="1.15" stroke-linecap="butt"/>
<line x1="749.20" y1="508.80" x2="749.20" y2="558.60" stroke="#2b2b2b" stroke-width="1.15" stroke-linecap="butt"/>
<line x1="749.20" y1="572.80" x2="749.20" y2="622.50" stroke="#2b2b2b" stroke-width="1.15" stroke-linecap="butt"/>
<line x1="738.45" y1="508.80" x2="759.95" y2="508.80" stroke="#2b2b2b" stroke-width="1.15" stroke-linecap="butt"/>
<line x1="738.45" y1="622.50" x2="759.95" y2="622.50" stroke="#2b2b2b" stroke-width="1.15" stroke-linecap="butt"/>
<line x1="771.70" y1="492.50" x2="771.70" y2="549.60" stroke="#2b2b2b" stroke-width="1.15" stroke-linecap="butt"/>
<line x1="771.70" y1="563.80" x2="771.70" y2="620.50" stroke="#2b2b2b" stroke-width="1.15" stroke-linecap="butt"/>
<line x1="760.95" y1="492.50" x2="782.45" y2="492.50" stroke="#2b2b2b" stroke-width="1.15" stroke-linecap="butt"/>
<line x1="760.95" y1="620.50" x2="782.45" y2="620.50" stroke="#2b2b2b" stroke-width="1.15" stroke-linecap="butt"/>
<line x1="816.00" y1="505.50" x2="816.00" y2="556.60" stroke="#2b2b2b" stroke-width="1.15" stroke-linecap="butt"/>
<line x1="816.00" y1="570.80" x2="816.00" y2="621.90" stroke="#2b2b2b" stroke-width="1.15" stroke-linecap="butt"/>
<line x1="805.25" y1="505.50" x2="826.75" y2="505.50" stroke="#2b2b2b" stroke-width="1.15" stroke-linecap="butt"/>
<line x1="805.25" y1="621.90" x2="826.75" y2="621.90" stroke="#2b2b2b" stroke-width="1.15" stroke-linecap="butt"/>
<line x1="860.90" y1="499.20" x2="860.90" y2="562.00" stroke="#2b2b2b" stroke-width="1.15" stroke-linecap="butt"/>
<line x1="860.90" y1="576.20" x2="860.90" y2="639.00" stroke="#2b2b2b" stroke-width="1.15" stroke-linecap="butt"/>
<line x1="850.15" y1="499.20" x2="871.65" y2="499.20" stroke="#2b2b2b" stroke-width="1.15" stroke-linecap="butt"/>
<line x1="850.15" y1="639.00" x2="871.65" y2="639.00" stroke="#2b2b2b" stroke-width="1.15" stroke-linecap="butt"/>
<line x1="994.90" y1="481.20" x2="994.90" y2="538.00" stroke="#2b2b2b" stroke-width="1.15" stroke-linecap="butt"/>
<line x1="994.90" y1="552.20" x2="994.90" y2="609.00" stroke="#2b2b2b" stroke-width="1.15" stroke-linecap="butt"/>
<line x1="984.15" y1="481.20" x2="1005.60" y2="481.20" stroke="#2b2b2b" stroke-width="1.15" stroke-linecap="butt"/>
<line x1="984.15" y1="609.00" x2="1005.60" y2="609.00" stroke="#2b2b2b" stroke-width="1.15" stroke-linecap="butt"/>
<rect x="606.80" y="457.30" width="11.80" height="13.00" fill="#000"/>
<rect x="636.10" y="399.30" width="11.80" height="13.00" fill="#000"/>
<rect x="665.85" y="513.80" width="11.80" height="13.00" fill="#000"/>
<rect x="724.70" y="548.00" width="11.80" height="13.00" fill="#000"/>
<rect x="743.30" y="531.80" width="11.80" height="13.00" fill="#000"/>
<rect x="765.80" y="526.00" width="11.80" height="13.00" fill="#000"/>
<rect x="810.10" y="535.50" width="11.80" height="13.00" fill="#000"/>
<rect x="855.00" y="537.80" width="11.80" height="13.00" fill="#000"/>
<rect x="989.00" y="486.50" width="11.80" height="13.00" fill="#000"/>
<ellipse cx="612.70" cy="524.80" rx="6.45" ry="7.10" fill="#000"/>
<ellipse cx="642.00" cy="484.00" rx="6.45" ry="7.10" fill="#000"/>
<ellipse cx="671.75" cy="540.60" rx="6.45" ry="7.10" fill="#000"/>
<ellipse cx="730.60" cy="573.00" rx="6.45" ry="7.10" fill="#000"/>
<ellipse cx="749.20" cy="565.70" rx="6.45" ry="7.10" fill="#000"/>
<ellipse cx="771.70" cy="556.70" rx="6.45" ry="7.10" fill="#000"/>
<ellipse cx="816.00" cy="563.70" rx="6.45" ry="7.10" fill="#000"/>
<ellipse cx="860.90" cy="569.10" rx="6.45" ry="7.10" fill="#000"/>
<ellipse cx="994.90" cy="545.10" rx="6.45" ry="7.10" fill="#000"/>
<rect x="603.20" y="34.50" width="402.40" height="615.70" fill="none" stroke="#000" stroke-width="2.2"/>
<line x1="603.20" y1="614.80" x2="614.20" y2="614.80" stroke="#000" stroke-width="1.8" stroke-linecap="butt"/>
<line x1="603.20" y1="440.68" x2="614.20" y2="440.68" stroke="#000" stroke-width="1.8" stroke-linecap="butt"/>
<line x1="603.20" y1="266.56" x2="614.20" y2="266.56" stroke="#000" stroke-width="1.8" stroke-linecap="butt"/>
<line x1="603.20" y1="92.44" x2="614.20" y2="92.44" stroke="#000" stroke-width="1.8" stroke-linecap="butt"/>
<line x1="603.20" y1="527.74" x2="609.20" y2="527.74" stroke="#000" stroke-width="1.8" stroke-linecap="butt"/>
<line x1="603.20" y1="353.62" x2="609.20" y2="353.62" stroke="#000" stroke-width="1.8" stroke-linecap="butt"/>
<line x1="603.20" y1="179.50" x2="609.20" y2="179.50" stroke="#000" stroke-width="1.8" stroke-linecap="butt"/>
<line x1="1005.60" y1="614.80" x2="994.60" y2="614.80" stroke="#000" stroke-width="1.8" stroke-linecap="butt"/>
<line x1="1005.60" y1="440.68" x2="994.60" y2="440.68" stroke="#000" stroke-width="1.8" stroke-linecap="butt"/>
<line x1="1005.60" y1="266.56" x2="994.60" y2="266.56" stroke="#000" stroke-width="1.8" stroke-linecap="butt"/>
<line x1="1005.60" y1="92.44" x2="994.60" y2="92.44" stroke="#000" stroke-width="1.8" stroke-linecap="butt"/>
<line x1="1005.60" y1="527.74" x2="999.60" y2="527.74" stroke="#000" stroke-width="1.8" stroke-linecap="butt"/>
<line x1="1005.60" y1="353.62" x2="999.60" y2="353.62" stroke="#000" stroke-width="1.8" stroke-linecap="butt"/>
<line x1="1005.60" y1="179.50" x2="999.60" y2="179.50" stroke="#000" stroke-width="1.8" stroke-linecap="butt"/>
<line x1="612.70" y1="650.20" x2="612.70" y2="638.20" stroke="#000" stroke-width="1.8" stroke-linecap="butt"/>
<line x1="691.40" y1="650.20" x2="691.40" y2="638.20" stroke="#000" stroke-width="1.8" stroke-linecap="butt"/>
<line x1="816.00" y1="650.20" x2="816.00" y2="638.20" stroke="#000" stroke-width="1.8" stroke-linecap="butt"/>
<line x1="905.60" y1="650.20" x2="905.60" y2="638.20" stroke="#000" stroke-width="1.8" stroke-linecap="butt"/>
<line x1="994.90" y1="650.20" x2="994.90" y2="638.20" stroke="#000" stroke-width="1.8" stroke-linecap="butt"/>
<line x1="652.10" y1="650.20" x2="652.10" y2="644.20" stroke="#000" stroke-width="1.8" stroke-linecap="butt"/>
<line x1="730.60" y1="650.20" x2="730.60" y2="644.20" stroke="#000" stroke-width="1.8" stroke-linecap="butt"/>
<line x1="860.90" y1="650.20" x2="860.90" y2="644.20" stroke="#000" stroke-width="1.8" stroke-linecap="butt"/>
<line x1="950.20" y1="650.20" x2="950.20" y2="644.20" stroke="#000" stroke-width="1.8" stroke-linecap="butt"/>
<line x1="612.70" y1="34.50" x2="612.70" y2="46.50" stroke="#000" stroke-width="1.8" stroke-linecap="butt"/>
<line x1="691.40" y1="34.50" x2="691.40" y2="46.50" stroke="#000" stroke-width="1.8" stroke-linecap="butt"/>
<line x1="816.00" y1="34.50" x2="816.00" y2="46.50" stroke="#000" stroke-width="1.8" stroke-linecap="butt"/>
<line x1="905.60" y1="34.50" x2="905.60" y2="46.50" stroke="#000" stroke-width="1.8" stroke-linecap="butt"/>
<line x1="994.90" y1="34.50" x2="994.90" y2="46.50" stroke="#000" stroke-width="1.8" stroke-linecap="butt"/>
<line x1="652.10" y1="34.50" x2="652.10" y2="40.50" stroke="#000" stroke-width="1.8" stroke-linecap="butt"/>
<line x1="730.60" y1="34.50" x2="730.60" y2="40.50" stroke="#000" stroke-width="1.8" stroke-linecap="butt"/>
<line x1="860.90" y1="34.50" x2="860.90" y2="40.50" stroke="#000" stroke-width="1.8" stroke-linecap="butt"/>
<line x1="950.20" y1="34.50" x2="950.20" y2="40.50" stroke="#000" stroke-width="1.8" stroke-linecap="butt"/>
<rect x="740.00" y="32.50" width="7.20" height="4" fill="#fff"/>
<line x1="736.78" y1="46.20" x2="743.28" y2="22.60" stroke="#000" stroke-width="2.4" stroke-linecap="butt"/>
<line x1="743.98" y1="46.20" x2="750.48" y2="22.60" stroke="#000" stroke-width="2.4" stroke-linecap="butt"/>
<rect x="740.00" y="648.20" width="7.20" height="4" fill="#fff"/>
<line x1="736.79" y1="662.20" x2="743.29" y2="637.90" stroke="#000" stroke-width="2.4" stroke-linecap="butt"/>
<line x1="743.99" y1="662.20" x2="750.49" y2="637.90" stroke="#000" stroke-width="2.4" stroke-linecap="butt"/>
<text x="568.78" y="625.56" font-size="25.88" textLength="31.73" lengthAdjust="spacingAndGlyphs" fill="#000">0.0</text>
<text x="568.78" y="451.44" font-size="25.88" textLength="31.73" lengthAdjust="spacingAndGlyphs" fill="#000">0.3</text>
<text x="568.79" y="277.32" font-size="25.88" textLength="31.46" lengthAdjust="spacingAndGlyphs" fill="#000">0.6</text>
<text x="568.78" y="103.20" font-size="25.88" textLength="31.73" lengthAdjust="spacingAndGlyphs" fill="#000">0.9</text>
<text x="607.15" y="683.95" font-size="25.33" textLength="14.40" lengthAdjust="spacingAndGlyphs" fill="#000">0</text>
<text x="686.28" y="684.20" font-size="25.91" textLength="13.01" lengthAdjust="spacingAndGlyphs" fill="#000">4</text>
<text x="807.20" y="683.95" font-size="25.33" textLength="25.11" lengthAdjust="spacingAndGlyphs" fill="#000">48</text>
<text x="896.65" y="683.94" font-size="25.52" textLength="24.89" lengthAdjust="spacingAndGlyphs" fill="#000">96</text>
<text x="982.18" y="684.20" font-size="25.91" textLength="36.99" lengthAdjust="spacingAndGlyphs" fill="#000">144</text>
<text x="669.89" y="726.90" font-size="27.80" textLength="262.32" lengthAdjust="spacingAndGlyphs">Post-irradiation time (h)</text>
<text transform="translate(559.00,587.59) rotate(-90)" x="0" y="0" font-size="27.60" textLength="503.75" lengthAdjust="spacingAndGlyphs">Glutathione peroxidase (μM GSH/mg protein)</text>
<text x="601.00" y="23.93" font-size="27.09" textLength="13.91" lengthAdjust="spacingAndGlyphs" fill="#000">b</text>
<polyline points="85.20,1196.30 114.90,1144.30 144.30,1246.30 203.10,1277.50 221.70,1262.80 244.20,1257.50 288.70,1266.20 333.20,1268.60 466.80,1223.00" fill="none" stroke="#000" stroke-width="1.7" stroke-linejoin="round"/>
<polyline points="85.20,1291.50 114.90,1273.20 144.30,1300.20 203.10,1312.60 221.70,1309.40 244.20,1309.40 288.70,1310.10 333.20,1314.70 466.80,1304.50" fill="none" stroke="#000" stroke-width="1.7" stroke-linejoin="round"/>
<polyline points="85.20,906.30 114.90,854.10 144.30,994.20 203.10,994.20 221.70,1020.30 244.20,1046.80 288.70,1057.70 333.20,1081.20 466.80,1004.90" fill="none" stroke="#000" stroke-width="1.7" stroke-linejoin="round"/>
<polyline points="85.20,1072.00 114.90,1056.20 144.30,1135.00 203.10,1150.00 221.70,1150.00 244.20,1212.50 288.70,1217.00 333.20,1237.60 466.80,1216.60" fill="none" stroke="#000" stroke-width="1.7" stroke-linejoin="round"/>
<rect x="80.15" y="900.65" width="10.10" height="11.30" fill="#fff" stroke="#000" stroke-width="1.7"/>
<rect x="109.85" y="848.45" width="10.10" height="11.30" fill="#fff" stroke="#000" stroke-width="1.7"/>
<rect x="139.25" y="988.55" width="10.10" height="11.30" fill="#fff" stroke="#000" stroke-width="1.7"/>
<rect x="198.05" y="988.55" width="10.10" height="11.30" fill="#fff" stroke="#000" stroke-width="1.7"/>
<rect x="216.65" y="1014.65" width="10.10" height="11.30" fill="#fff" stroke="#000" stroke-width="1.7"/>
<rect x="239.15" y="1041.15" width="10.10" height="11.30" fill="#fff" stroke="#000" stroke-width="1.7"/>
<rect x="283.65" y="1052.05" width="10.10" height="11.30" fill="#fff" stroke="#000" stroke-width="1.7"/>
<rect x="328.15" y="1075.55" width="10.10" height="11.30" fill="#fff" stroke="#000" stroke-width="1.7"/>
<rect x="461.75" y="999.25" width="10.10" height="11.30" fill="#fff" stroke="#000" stroke-width="1.7"/>
<ellipse cx="85.20" cy="1072.00" rx="5.60" ry="6.25" fill="#fff" stroke="#000" stroke-width="1.7"/>
<ellipse cx="114.90" cy="1056.20" rx="5.60" ry="6.25" fill="#fff" stroke="#000" stroke-width="1.7"/>
<ellipse cx="144.30" cy="1135.00" rx="5.60" ry="6.25" fill="#fff" stroke="#000" stroke-width="1.7"/>
<ellipse cx="203.10" cy="1150.00" rx="5.60" ry="6.25" fill="#fff" stroke="#000" stroke-width="1.7"/>
<ellipse cx="221.70" cy="1150.00" rx="5.60" ry="6.25" fill="#fff" stroke="#000" stroke-width="1.7"/>
<ellipse cx="244.20" cy="1212.50" rx="5.60" ry="6.25" fill="#fff" stroke="#000" stroke-width="1.7"/>
<ellipse cx="288.70" cy="1217.00" rx="5.60" ry="6.25" fill="#fff" stroke="#000" stroke-width="1.7"/>
<ellipse cx="333.20" cy="1237.60" rx="5.60" ry="6.25" fill="#fff" stroke="#000" stroke-width="1.7"/>
<ellipse cx="466.80" cy="1216.60" rx="5.60" ry="6.25" fill="#fff" stroke="#000" stroke-width="1.7"/>
<line x1="85.20" y1="1137.50" x2="85.20" y2="1189.80" stroke="#2b2b2b" stroke-width="1.15" stroke-linecap="butt"/>
<line x1="85.20" y1="1202.80" x2="85.20" y2="1255.30" stroke="#2b2b2b" stroke-width="1.15" stroke-linecap="butt"/>
<line x1="75.60" y1="1137.50" x2="95.95" y2="1137.50" stroke="#2b2b2b" stroke-width="1.15" stroke-linecap="butt"/>
<line x1="75.60" y1="1255.30" x2="95.95" y2="1255.30" stroke="#2b2b2b" stroke-width="1.15" stroke-linecap="butt"/>
<line x1="114.90" y1="1086.80" x2="114.90" y2="1137.80" stroke="#2b2b2b" stroke-width="1.15" stroke-linecap="butt"/>
<line x1="114.90" y1="1150.80" x2="114.90" y2="1201.80" stroke="#2b2b2b" stroke-width="1.15" stroke-linecap="butt"/>
<line x1="104.15" y1="1086.80" x2="125.65" y2="1086.80" stroke="#2b2b2b" stroke-width="1.15" stroke-linecap="butt"/>
<line x1="104.15" y1="1201.80" x2="125.65" y2="1201.80" stroke="#2b2b2b" stroke-width="1.15" stroke-linecap="butt"/>
<line x1="144.30" y1="1189.50" x2="144.30" y2="1239.80" stroke="#2b2b2b" stroke-width="1.15" stroke-linecap="butt"/>
<line x1="144.30" y1="1252.80" x2="144.30" y2="1303.80" stroke="#2b2b2b" stroke-width="1.15" stroke-linecap="butt"/>
<line x1="133.55" y1="1189.50" x2="155.05" y2="1189.50" stroke="#2b2b2b" stroke-width="1.15" stroke-linecap="butt"/>
<line x1="133.55" y1="1303.80" x2="155.05" y2="1303.80" stroke="#2b2b2b" stroke-width="1.15" stroke-linecap="butt"/>
<line x1="203.10" y1="1225.80" x2="203.10" y2="1271.00" stroke="#2b2b2b" stroke-width="1.15" stroke-linecap="butt"/>
<line x1="203.10" y1="1284.00" x2="203.10" y2="1328.50" stroke="#2b2b2b" stroke-width="1.15" stroke-linecap="butt"/>
<line x1="192.35" y1="1225.80" x2="213.85" y2="1225.80" stroke="#2b2b2b" stroke-width="1.15" stroke-linecap="butt"/>
<line x1="192.35" y1="1328.50" x2="213.85" y2="1328.50" stroke="#2b2b2b" stroke-width="1.15" stroke-linecap="butt"/>
<line x1="221.70" y1="1200.00" x2="221.70" y2="1256.30" stroke="#2b2b2b" stroke-width="1.15" stroke-linecap="butt"/>
<line x1="221.70" y1="1269.30" x2="221.70" y2="1325.00" stroke="#2b2b2b" stroke-width="1.15" stroke-linecap="butt"/>
<line x1="210.95" y1="1200.00" x2="232.45" y2="1200.00" stroke="#2b2b2b" stroke-width="1.15" stroke-linecap="butt"/>
<line x1="210.95" y1="1325.00" x2="232.45" y2="1325.00" stroke="#2b2b2b" stroke-width="1.15" stroke-linecap="butt"/>
<line x1="244.20" y1="1200.80" x2="244.20" y2="1251.00" stroke="#2b2b2b" stroke-width="1.15" stroke-linecap="butt"/>
<line x1="244.20" y1="1264.00" x2="244.20" y2="1315.00" stroke="#2b2b2b" stroke-width="1.15" stroke-linecap="butt"/>
<line x1="233.45" y1="1200.80" x2="254.95" y2="1200.80" stroke="#2b2b2b" stroke-width="1.15" stroke-linecap="butt"/>
<line x1="233.45" y1="1315.00" x2="254.95" y2="1315.00" stroke="#2b2b2b" stroke-width="1.15" stroke-linecap="butt"/>
<line x1="288.70" y1="1206.40" x2="288.70" y2="1259.70" stroke="#2b2b2b" stroke-width="1.15" stroke-linecap="butt"/>
<line x1="288.70" y1="1272.70" x2="288.70" y2="1325.00" stroke="#2b2b2b" stroke-width="1.15" stroke-linecap="butt"/>
<line x1="277.95" y1="1206.40" x2="299.45" y2="1206.40" stroke="#2b2b2b" stroke-width="1.15" stroke-linecap="butt"/>
<line x1="277.95" y1="1325.00" x2="299.45" y2="1325.00" stroke="#2b2b2b" stroke-width="1.15" stroke-linecap="butt"/>
<line x1="333.20" y1="1213.10" x2="333.20" y2="1262.10" stroke="#2b2b2b" stroke-width="1.15" stroke-linecap="butt"/>
<line x1="333.20" y1="1275.10" x2="333.20" y2="1323.30" stroke="#2b2b2b" stroke-width="1.15" stroke-linecap="butt"/>
<line x1="322.45" y1="1213.10" x2="343.95" y2="1213.10" stroke="#2b2b2b" stroke-width="1.15" stroke-linecap="butt"/>
<line x1="322.45" y1="1323.30" x2="343.95" y2="1323.30" stroke="#2b2b2b" stroke-width="1.15" stroke-linecap="butt"/>
<line x1="466.80" y1="1155.00" x2="466.80" y2="1216.50" stroke="#2b2b2b" stroke-width="1.15" stroke-linecap="butt"/>
<line x1="466.80" y1="1229.50" x2="466.80" y2="1289.80" stroke="#2b2b2b" stroke-width="1.15" stroke-linecap="butt"/>
<line x1="456.05" y1="1155.00" x2="477.55" y2="1155.00" stroke="#2b2b2b" stroke-width="1.15" stroke-linecap="butt"/>
<line x1="456.05" y1="1289.80" x2="477.55" y2="1289.80" stroke="#2b2b2b" stroke-width="1.15" stroke-linecap="butt"/>
<line x1="85.20" y1="1218.30" x2="85.20" y2="1284.40" stroke="#2b2b2b" stroke-width="1.15" stroke-linecap="butt"/>
<line x1="85.20" y1="1298.60" x2="85.20" y2="1364.00" stroke="#2b2b2b" stroke-width="1.15" stroke-linecap="butt"/>
<line x1="75.60" y1="1218.30" x2="95.95" y2="1218.30" stroke="#2b2b2b" stroke-width="1.15" stroke-linecap="butt"/>
<line x1="75.60" y1="1364.00" x2="95.95" y2="1364.00" stroke="#2b2b2b" stroke-width="1.15" stroke-linecap="butt"/>
<line x1="114.90" y1="1205.50" x2="114.90" y2="1266.10" stroke="#2b2b2b" stroke-width="1.15" stroke-linecap="butt"/>
<line x1="114.90" y1="1280.30" x2="114.90" y2="1340.20" stroke="#2b2b2b" stroke-width="1.15" stroke-linecap="butt"/>
<line x1="104.15" y1="1205.50" x2="125.65" y2="1205.50" stroke="#2b2b2b" stroke-width="1.15" stroke-linecap="butt"/>
<line x1="104.15" y1="1340.20" x2="125.65" y2="1340.20" stroke="#2b2b2b" stroke-width="1.15" stroke-linecap="butt"/>
<line x1="144.30" y1="1248.00" x2="144.30" y2="1293.10" stroke="#2b2b2b" stroke-width="1.15" stroke-linecap="butt"/>
<line x1="144.30" y1="1307.30" x2="144.30" y2="1351.80" stroke="#2b2b2b" stroke-width="1.15" stroke-linecap="butt"/>
<line x1="133.55" y1="1248.00" x2="155.05" y2="1248.00" stroke="#2b2b2b" stroke-width="1.15" stroke-linecap="butt"/>
<line x1="133.55" y1="1351.80" x2="155.05" y2="1351.80" stroke="#2b2b2b" stroke-width="1.15" stroke-linecap="butt"/>
<line x1="203.10" y1="1259.40" x2="203.10" y2="1305.50" stroke="#2b2b2b" stroke-width="1.15" stroke-linecap="butt"/>
<line x1="203.10" y1="1319.70" x2="203.10" y2="1366.30" stroke="#2b2b2b" stroke-width="1.15" stroke-linecap="butt"/>
<line x1="192.35" y1="1259.40" x2="213.85" y2="1259.40" stroke="#2b2b2b" stroke-width="1.15" stroke-linecap="butt"/>
<line x1="192.35" y1="1366.30" x2="213.85" y2="1366.30" stroke="#2b2b2b" stroke-width="1.15" stroke-linecap="butt"/>
<line x1="221.70" y1="1258.00" x2="221.70" y2="1302.30" stroke="#2b2b2b" stroke-width="1.15" stroke-linecap="butt"/>
<line x1="221.70" y1="1316.50" x2="221.70" y2="1360.00" stroke="#2b2b2b" stroke-width="1.15" stroke-linecap="butt"/>
<line x1="210.95" y1="1258.00" x2="232.45" y2="1258.00" stroke="#2b2b2b" stroke-width="1.15" stroke-linecap="butt"/>
<line x1="210.95" y1="1360.00" x2="232.45" y2="1360.00" stroke="#2b2b2b" stroke-width="1.15" stroke-linecap="butt"/>
<line x1="244.20" y1="1252.00" x2="244.20" y2="1302.30" stroke="#2b2b2b" stroke-width="1.15" stroke-linecap="butt"/>
<line x1="244.20" y1="1316.50" x2="244.20" y2="1366.30" stroke="#2b2b2b" stroke-width="1.15" stroke-linecap="butt"/>
<line x1="233.45" y1="1252.00" x2="254.95" y2="1252.00" stroke="#2b2b2b" stroke-width="1.15" stroke-linecap="butt"/>
<line x1="233.45" y1="1366.30" x2="254.95" y2="1366.30" stroke="#2b2b2b" stroke-width="1.15" stroke-linecap="butt"/>
<line x1="288.70" y1="1258.20" x2="288.70" y2="1303.00" stroke="#2b2b2b" stroke-width="1.15" stroke-linecap="butt"/>
<line x1="288.70" y1="1317.20" x2="288.70" y2="1361.90" stroke="#2b2b2b" stroke-width="1.15" stroke-linecap="butt"/>
<line x1="277.95" y1="1258.20" x2="299.45" y2="1258.20" stroke="#2b2b2b" stroke-width="1.15" stroke-linecap="butt"/>
<line x1="277.95" y1="1361.90" x2="299.45" y2="1361.90" stroke="#2b2b2b" stroke-width="1.15" stroke-linecap="butt"/>
<line x1="333.20" y1="1252.30" x2="333.20" y2="1307.60" stroke="#2b2b2b" stroke-width="1.15" stroke-linecap="butt"/>
<line x1="333.20" y1="1321.80" x2="333.20" y2="1376.90" stroke="#2b2b2b" stroke-width="1.15" stroke-linecap="butt"/>
<line x1="322.45" y1="1252.30" x2="343.95" y2="1252.30" stroke="#2b2b2b" stroke-width="1.15" stroke-linecap="butt"/>
<line x1="322.45" y1="1376.90" x2="343.95" y2="1376.90" stroke="#2b2b2b" stroke-width="1.15" stroke-linecap="butt"/>
<line x1="466.80" y1="1246.90" x2="466.80" y2="1297.40" stroke="#2b2b2b" stroke-width="1.15" stroke-linecap="butt"/>
<line x1="466.80" y1="1311.60" x2="466.80" y2="1361.70" stroke="#2b2b2b" stroke-width="1.15" stroke-linecap="butt"/>
<line x1="456.05" y1="1246.90" x2="477.55" y2="1246.90" stroke="#2b2b2b" stroke-width="1.15" stroke-linecap="butt"/>
<line x1="456.05" y1="1361.70" x2="477.55" y2="1361.70" stroke="#2b2b2b" stroke-width="1.15" stroke-linecap="butt"/>
<line x1="85.20" y1="860.00" x2="85.20" y2="899.80" stroke="#2b2b2b" stroke-width="1.15" stroke-linecap="butt"/>
<line x1="85.20" y1="912.80" x2="85.20" y2="952.50" stroke="#2b2b2b" stroke-width="1.15" stroke-linecap="butt"/>
<line x1="75.60" y1="860.00" x2="95.95" y2="860.00" stroke="#2b2b2b" stroke-width="1.15" stroke-linecap="butt"/>
<line x1="75.60" y1="952.50" x2="95.95" y2="952.50" stroke="#2b2b2b" stroke-width="1.15" stroke-linecap="butt"/>
<line x1="114.90" y1="797.00" x2="114.90" y2="847.60" stroke="#2b2b2b" stroke-width="1.15" stroke-linecap="butt"/>
<line x1="114.90" y1="860.60" x2="114.90" y2="910.80" stroke="#2b2b2b" stroke-width="1.15" stroke-linecap="butt"/>
<line x1="104.15" y1="797.00" x2="125.65" y2="797.00" stroke="#2b2b2b" stroke-width="1.15" stroke-linecap="butt"/>
<line x1="104.15" y1="910.80" x2="125.65" y2="910.80" stroke="#2b2b2b" stroke-width="1.15" stroke-linecap="butt"/>
<line x1="144.30" y1="938.00" x2="144.30" y2="987.70" stroke="#2b2b2b" stroke-width="1.15" stroke-linecap="butt"/>
<line x1="144.30" y1="1000.70" x2="144.30" y2="1050.00" stroke="#2b2b2b" stroke-width="1.15" stroke-linecap="butt"/>
<line x1="133.55" y1="938.00" x2="155.05" y2="938.00" stroke="#2b2b2b" stroke-width="1.15" stroke-linecap="butt"/>
<line x1="133.55" y1="1050.00" x2="155.05" y2="1050.00" stroke="#2b2b2b" stroke-width="1.15" stroke-linecap="butt"/>
<line x1="203.10" y1="944.00" x2="203.10" y2="987.70" stroke="#2b2b2b" stroke-width="1.15" stroke-linecap="butt"/>
<line x1="203.10" y1="1000.70" x2="203.10" y2="1044.30" stroke="#2b2b2b" stroke-width="1.15" stroke-linecap="butt"/>
<line x1="192.35" y1="944.00" x2="213.85" y2="944.00" stroke="#2b2b2b" stroke-width="1.15" stroke-linecap="butt"/>
<line x1="192.35" y1="1044.30" x2="213.85" y2="1044.30" stroke="#2b2b2b" stroke-width="1.15" stroke-linecap="butt"/>
<line x1="221.70" y1="960.30" x2="221.70" y2="1013.80" stroke="#2b2b2b" stroke-width="1.15" stroke-linecap="butt"/>
<line x1="221.70" y1="1026.80" x2="221.70" y2="1079.50" stroke="#2b2b2b" stroke-width="1.15" stroke-linecap="butt"/>
<line x1="210.95" y1="960.30" x2="232.45" y2="960.30" stroke="#2b2b2b" stroke-width="1.15" stroke-linecap="butt"/>
<line x1="210.95" y1="1079.50" x2="232.45" y2="1079.50" stroke="#2b2b2b" stroke-width="1.15" stroke-linecap="butt"/>
<line x1="244.20" y1="992.00" x2="244.20" y2="1040.30" stroke="#2b2b2b" stroke-width="1.15" stroke-linecap="butt"/>
<line x1="244.20" y1="1053.30" x2="244.20" y2="1100.80" stroke="#2b2b2b" stroke-width="1.15" stroke-linecap="butt"/>
<line x1="233.45" y1="992.00" x2="254.95" y2="992.00" stroke="#2b2b2b" stroke-width="1.15" stroke-linecap="butt"/>
<line x1="233.45" y1="1100.80" x2="254.95" y2="1100.80" stroke="#2b2b2b" stroke-width="1.15" stroke-linecap="butt"/>
<line x1="288.70" y1="1003.00" x2="288.70" y2="1051.20" stroke="#2b2b2b" stroke-width="1.15" stroke-linecap="butt"/>
<line x1="288.70" y1="1064.20" x2="288.70" y2="1112.60" stroke="#2b2b2b" stroke-width="1.15" stroke-linecap="butt"/>
<line x1="277.95" y1="1003.00" x2="299.45" y2="1003.00" stroke="#2b2b2b" stroke-width="1.15" stroke-linecap="butt"/>
<line x1="277.95" y1="1112.60" x2="299.45" y2="1112.60" stroke="#2b2b2b" stroke-width="1.15" stroke-linecap="butt"/>
<line x1="333.20" y1="1029.40" x2="333.20" y2="1074.70" stroke="#2b2b2b" stroke-width="1.15" stroke-linecap="butt"/>
<line x1="333.20" y1="1087.70" x2="333.20" y2="1133.20" stroke="#2b2b2b" stroke-width="1.15" stroke-linecap="butt"/>
<line x1="322.45" y1="1029.40" x2="343.95" y2="1029.40" stroke="#2b2b2b" stroke-width="1.15" stroke-linecap="butt"/>
<line x1="322.45" y1="1133.20" x2="343.95" y2="1133.20" stroke="#2b2b2b" stroke-width="1.15" stroke-linecap="butt"/>
<line x1="466.80" y1="939.90" x2="466.80" y2="998.40" stroke="#2b2b2b" stroke-width="1.15" stroke-linecap="butt"/>
<line x1="466.80" y1="1011.40" x2="466.80" y2="1070.00" stroke="#2b2b2b" stroke-width="1.15" stroke-linecap="butt"/>
<line x1="456.05" y1="939.90" x2="477.55" y2="939.90" stroke="#2b2b2b" stroke-width="1.15" stroke-linecap="butt"/>
<line x1="456.05" y1="1070.00" x2="477.55" y2="1070.00" stroke="#2b2b2b" stroke-width="1.15" stroke-linecap="butt"/>
<line x1="85.20" y1="1020.50" x2="85.20" y2="1064.90" stroke="#2b2b2b" stroke-width="1.15" stroke-linecap="butt"/>
<line x1="85.20" y1="1079.10" x2="85.20" y2="1123.80" stroke="#2b2b2b" stroke-width="1.15" stroke-linecap="butt"/>
<line x1="75.60" y1="1020.50" x2="95.95" y2="1020.50" stroke="#2b2b2b" stroke-width="1.15" stroke-linecap="butt"/>
<line x1="75.60" y1="1123.80" x2="95.95" y2="1123.80" stroke="#2b2b2b" stroke-width="1.15" stroke-linecap="butt"/>
<line x1="114.90" y1="990.80" x2="114.90" y2="1049.10" stroke="#2b2b2b" stroke-width="1.15" stroke-linecap="butt"/>
<line x1="114.90" y1="1063.30" x2="114.90" y2="1121.30" stroke="#2b2b2b" stroke-width="1.15" stroke-linecap="butt"/>
<line x1="104.15" y1="990.80" x2="125.65" y2="990.80" stroke="#2b2b2b" stroke-width="1.15" stroke-linecap="butt"/>
<line x1="104.15" y1="1121.30" x2="125.65" y2="1121.30" stroke="#2b2b2b" stroke-width="1.15" stroke-linecap="butt"/>
<line x1="144.30" y1="1085.80" x2="144.30" y2="1127.90" stroke="#2b2b2b" stroke-width="1.15" stroke-linecap="butt"/>
<line x1="144.30" y1="1142.10" x2="144.30" y2="1184.30" stroke="#2b2b2b" stroke-width="1.15" stroke-linecap="butt"/>
<line x1="133.55" y1="1085.80" x2="155.05" y2="1085.80" stroke="#2b2b2b" stroke-width="1.15" stroke-linecap="butt"/>
<line x1="133.55" y1="1184.30" x2="155.05" y2="1184.30" stroke="#2b2b2b" stroke-width="1.15" stroke-linecap="butt"/>
<line x1="203.10" y1="1102.00" x2="203.10" y2="1142.90" stroke="#2b2b2b" stroke-width="1.15" stroke-linecap="butt"/>
<line x1="203.10" y1="1157.10" x2="203.10" y2="1197.00" stroke="#2b2b2b" stroke-width="1.15" stroke-linecap="butt"/>
<line x1="192.35" y1="1102.00" x2="213.85" y2="1102.00" stroke="#2b2b2b" stroke-width="1.15" stroke-linecap="butt"/>
<line x1="192.35" y1="1197.00" x2="213.85" y2="1197.00" stroke="#2b2b2b" stroke-width="1.15" stroke-linecap="butt"/>
<line x1="221.70" y1="1101.30" x2="221.70" y2="1142.90" stroke="#2b2b2b" stroke-width="1.15" stroke-linecap="butt"/>
<line x1="221.70" y1="1157.10" x2="221.70" y2="1200.00" stroke="#2b2b2b" stroke-width="1.15" stroke-linecap="butt"/>
<line x1="210.95" y1="1101.30" x2="232.45" y2="1101.30" stroke="#2b2b2b" stroke-width="1.15" stroke-linecap="butt"/>
<line x1="210.95" y1="1200.00" x2="232.45" y2="1200.00" stroke="#2b2b2b" stroke-width="1.15" stroke-linecap="butt"/>
<line x1="244.20" y1="1155.50" x2="244.20" y2="1205.40" stroke="#2b2b2b" stroke-width="1.15" stroke-linecap="butt"/>
<line x1="244.20" y1="1219.60" x2="244.20" y2="1268.80" stroke="#2b2b2b" stroke-width="1.15" stroke-linecap="butt"/>
<line x1="233.45" y1="1155.50" x2="254.95" y2="1155.50" stroke="#2b2b2b" stroke-width="1.15" stroke-linecap="butt"/>
<line x1="233.45" y1="1268.80" x2="254.95" y2="1268.80" stroke="#2b2b2b" stroke-width="1.15" stroke-linecap="butt"/>
<line x1="288.70" y1="1166.70" x2="288.70" y2="1209.90" stroke="#2b2b2b" stroke-width="1.15" stroke-linecap="butt"/>
<line x1="288.70" y1="1224.10" x2="288.70" y2="1266.80" stroke="#2b2b2b" stroke-width="1.15" stroke-linecap="butt"/>
<line x1="277.95" y1="1166.70" x2="299.45" y2="1166.70" stroke="#2b2b2b" stroke-width="1.15" stroke-linecap="butt"/>
<line x1="277.95" y1="1266.80" x2="299.45" y2="1266.80" stroke="#2b2b2b" stroke-width="1.15" stroke-linecap="butt"/>
<line x1="333.20" y1="1180.80" x2="333.20" y2="1230.50" stroke="#2b2b2b" stroke-width="1.15" stroke-linecap="butt"/>
<line x1="333.20" y1="1244.70" x2="333.20" y2="1295.20" stroke="#2b2b2b" stroke-width="1.15" stroke-linecap="butt"/>
<line x1="322.45" y1="1180.80" x2="343.95" y2="1180.80" stroke="#2b2b2b" stroke-width="1.15" stroke-linecap="butt"/>
<line x1="322.45" y1="1295.20" x2="343.95" y2="1295.20" stroke="#2b2b2b" stroke-width="1.15" stroke-linecap="butt"/>
<line x1="466.80" y1="1160.40" x2="466.80" y2="1209.50" stroke="#2b2b2b" stroke-width="1.15" stroke-linecap="butt"/>
<line x1="466.80" y1="1223.70" x2="466.80" y2="1274.50" stroke="#2b2b2b" stroke-width="1.15" stroke-linecap="butt"/>
<line x1="456.05" y1="1160.40" x2="477.55" y2="1160.40" stroke="#2b2b2b" stroke-width="1.15" stroke-linecap="butt"/>
<line x1="456.05" y1="1274.50" x2="477.55" y2="1274.50" stroke="#2b2b2b" stroke-width="1.15" stroke-linecap="butt"/>
<rect x="79.30" y="1189.80" width="11.80" height="13.00" fill="#000"/>
<rect x="109.00" y="1137.80" width="11.80" height="13.00" fill="#000"/>
<rect x="138.40" y="1239.80" width="11.80" height="13.00" fill="#000"/>
<rect x="197.20" y="1271.00" width="11.80" height="13.00" fill="#000"/>
<rect x="215.80" y="1256.30" width="11.80" height="13.00" fill="#000"/>
<rect x="238.30" y="1251.00" width="11.80" height="13.00" fill="#000"/>
<rect x="282.80" y="1259.70" width="11.80" height="13.00" fill="#000"/>
<rect x="327.30" y="1262.10" width="11.80" height="13.00" fill="#000"/>
<rect x="460.90" y="1216.50" width="11.80" height="13.00" fill="#000"/>
<ellipse cx="85.20" cy="1291.50" rx="6.45" ry="7.10" fill="#000"/>
<ellipse cx="114.90" cy="1273.20" rx="6.45" ry="7.10" fill="#000"/>
<ellipse cx="144.30" cy="1300.20" rx="6.45" ry="7.10" fill="#000"/>
<ellipse cx="203.10" cy="1312.60" rx="6.45" ry="7.10" fill="#000"/>
<ellipse cx="221.70" cy="1309.40" rx="6.45" ry="7.10" fill="#000"/>
<ellipse cx="244.20" cy="1309.40" rx="6.45" ry="7.10" fill="#000"/>
<ellipse cx="288.70" cy="1310.10" rx="6.45" ry="7.10" fill="#000"/>
<ellipse cx="333.20" cy="1314.70" rx="6.45" ry="7.10" fill="#000"/>
<ellipse cx="466.80" cy="1304.50" rx="6.45" ry="7.10" fill="#000"/>
<rect x="75.60" y="781.60" width="402.70" height="606.60" fill="none" stroke="#000" stroke-width="2.2"/>
<line x1="75.60" y1="1331.30" x2="86.60" y2="1331.30" stroke="#000" stroke-width="1.8" stroke-linecap="butt"/>
<line x1="75.60" y1="1175.78" x2="86.60" y2="1175.78" stroke="#000" stroke-width="1.8" stroke-linecap="butt"/>
<line x1="75.60" y1="1020.26" x2="86.60" y2="1020.26" stroke="#000" stroke-width="1.8" stroke-linecap="butt"/>
<line x1="75.60" y1="864.74" x2="86.60" y2="864.74" stroke="#000" stroke-width="1.8" stroke-linecap="butt"/>
<line x1="75.60" y1="1253.54" x2="81.60" y2="1253.54" stroke="#000" stroke-width="1.8" stroke-linecap="butt"/>
<line x1="75.60" y1="1098.02" x2="81.60" y2="1098.02" stroke="#000" stroke-width="1.8" stroke-linecap="butt"/>
<line x1="75.60" y1="942.50" x2="81.60" y2="942.50" stroke="#000" stroke-width="1.8" stroke-linecap="butt"/>
<line x1="75.60" y1="786.98" x2="81.60" y2="786.98" stroke="#000" stroke-width="1.8" stroke-linecap="butt"/>
<line x1="478.30" y1="1331.30" x2="467.30" y2="1331.30" stroke="#000" stroke-width="1.8" stroke-linecap="butt"/>
<line x1="478.30" y1="1175.78" x2="467.30" y2="1175.78" stroke="#000" stroke-width="1.8" stroke-linecap="butt"/>
<line x1="478.30" y1="1020.26" x2="467.30" y2="1020.26" stroke="#000" stroke-width="1.8" stroke-linecap="butt"/>
<line x1="478.30" y1="864.74" x2="467.30" y2="864.74" stroke="#000" stroke-width="1.8" stroke-linecap="butt"/>
<line x1="478.30" y1="1253.54" x2="472.30" y2="1253.54" stroke="#000" stroke-width="1.8" stroke-linecap="butt"/>
<line x1="478.30" y1="1098.02" x2="472.30" y2="1098.02" stroke="#000" stroke-width="1.8" stroke-linecap="butt"/>
<line x1="478.30" y1="942.50" x2="472.30" y2="942.50" stroke="#000" stroke-width="1.8" stroke-linecap="butt"/>
<line x1="478.30" y1="786.98" x2="472.30" y2="786.98" stroke="#000" stroke-width="1.8" stroke-linecap="butt"/>
<line x1="85.20" y1="1388.20" x2="85.20" y2="1376.20" stroke="#000" stroke-width="1.8" stroke-linecap="butt"/>
<line x1="164.40" y1="1388.20" x2="164.40" y2="1376.20" stroke="#000" stroke-width="1.8" stroke-linecap="butt"/>
<line x1="288.70" y1="1388.20" x2="288.70" y2="1376.20" stroke="#000" stroke-width="1.8" stroke-linecap="butt"/>
<line x1="377.80" y1="1388.20" x2="377.80" y2="1376.20" stroke="#000" stroke-width="1.8" stroke-linecap="butt"/>
<line x1="466.80" y1="1388.20" x2="466.80" y2="1376.20" stroke="#000" stroke-width="1.8" stroke-linecap="butt"/>
<line x1="124.60" y1="1388.20" x2="124.60" y2="1382.20" stroke="#000" stroke-width="1.8" stroke-linecap="butt"/>
<line x1="203.20" y1="1388.20" x2="203.20" y2="1382.20" stroke="#000" stroke-width="1.8" stroke-linecap="butt"/>
<line x1="333.20" y1="1388.20" x2="333.20" y2="1382.20" stroke="#000" stroke-width="1.8" stroke-linecap="butt"/>
<line x1="422.40" y1="1388.20" x2="422.40" y2="1382.20" stroke="#000" stroke-width="1.8" stroke-linecap="butt"/>
<line x1="85.20" y1="781.60" x2="85.20" y2="793.60" stroke="#000" stroke-width="1.8" stroke-linecap="butt"/>
<line x1="164.40" y1="781.60" x2="164.40" y2="793.60" stroke="#000" stroke-width="1.8" stroke-linecap="butt"/>
<line x1="288.70" y1="781.60" x2="288.70" y2="793.60" stroke="#000" stroke-width="1.8" stroke-linecap="butt"/>
<line x1="377.80" y1="781.60" x2="377.80" y2="793.60" stroke="#000" stroke-width="1.8" stroke-linecap="butt"/>
<line x1="466.80" y1="781.60" x2="466.80" y2="793.60" stroke="#000" stroke-width="1.8" stroke-linecap="butt"/>
<line x1="124.60" y1="781.60" x2="124.60" y2="787.60" stroke="#000" stroke-width="1.8" stroke-linecap="butt"/>
<line x1="203.20" y1="781.60" x2="203.20" y2="787.60" stroke="#000" stroke-width="1.8" stroke-linecap="butt"/>
<line x1="333.20" y1="781.60" x2="333.20" y2="787.60" stroke="#000" stroke-width="1.8" stroke-linecap="butt"/>
<line x1="422.40" y1="781.60" x2="422.40" y2="787.60" stroke="#000" stroke-width="1.8" stroke-linecap="butt"/>
<rect x="212.65" y="779.60" width="6.90" height="4" fill="#fff"/>
<line x1="209.35" y1="793.20" x2="215.95" y2="770.00" stroke="#000" stroke-width="2.4" stroke-linecap="butt"/>
<line x1="216.25" y1="793.20" x2="222.85" y2="770.00" stroke="#000" stroke-width="2.4" stroke-linecap="butt"/>
<rect x="212.65" y="1386.20" width="6.90" height="4" fill="#fff"/>
<line x1="209.35" y1="1399.80" x2="215.95" y2="1376.60" stroke="#000" stroke-width="2.4" stroke-linecap="butt"/>
<line x1="216.25" y1="1399.80" x2="222.85" y2="1376.60" stroke="#000" stroke-width="2.4" stroke-linecap="butt"/>
<text x="41.81" y="1341.63" font-size="24.71" textLength="31.09" lengthAdjust="spacingAndGlyphs" fill="#000">0.0</text>
<text x="41.81" y="1186.11" font-size="24.71" textLength="31.09" lengthAdjust="spacingAndGlyphs" fill="#000">0.3</text>
<text x="41.81" y="1030.59" font-size="24.71" textLength="30.83" lengthAdjust="spacingAndGlyphs" fill="#000">0.6</text>
<text x="41.81" y="875.07" font-size="24.71" textLength="31.09" lengthAdjust="spacingAndGlyphs" fill="#000">0.9</text>
<text x="80.10" y="1421.46" font-size="24.15" textLength="13.69" lengthAdjust="spacingAndGlyphs" fill="#000">0</text>
<text x="159.81" y="1421.70" font-size="24.70" textLength="12.15" lengthAdjust="spacingAndGlyphs" fill="#000">4</text>
<text x="280.10" y="1421.46" font-size="24.15" textLength="25.00" lengthAdjust="spacingAndGlyphs" fill="#000">48</text>
<text x="369.35" y="1421.46" font-size="24.33" textLength="25.00" lengthAdjust="spacingAndGlyphs" fill="#000">96</text>
<text x="454.71" y="1421.70" font-size="24.70" textLength="36.45" lengthAdjust="spacingAndGlyphs" fill="#000">144</text>
<text x="143.39" y="1465.30" font-size="27.00" textLength="260.81" lengthAdjust="spacingAndGlyphs">Post-irradiation time (h)</text>
<text transform="translate(26.20,1326.27) rotate(-90)" x="0" y="0" font-size="27.40" textLength="496.92" lengthAdjust="spacingAndGlyphs">Glutathione peroxidase (μM GSH/mg protein)</text>
<text x="74.37" y="772.23" font-size="27.08" textLength="12.55" lengthAdjust="spacingAndGlyphs" fill="#000">c</text>
<clipPath id="cpd"><rect x="611.1" y="783.2" width="402.79999999999995" height="603.5"/></clipPath>
<g clip-path="url(#cpd)">
<line x1="611.10" y1="879.40" x2="1013.90" y2="1016.70" stroke="#000" stroke-width="1.2" stroke-linecap="butt"/>
<line x1="611.10" y1="1002.00" x2="1013.90" y2="1194.20" stroke="#000" stroke-width="1.2" stroke-linecap="butt"/>
<line x1="611.10" y1="1124.30" x2="1013.90" y2="1191.50" stroke="#000" stroke-width="1.2" stroke-linecap="butt"/>
<line x1="611.10" y1="1131.10" x2="1013.90" y2="1270.70" stroke="#000" stroke-width="1.2" stroke-linecap="butt"/>
<line x1="611.10" y1="1229.10" x2="1013.90" y2="1299.30" stroke="#000" stroke-width="1.2" stroke-linecap="butt"/>
<line x1="611.10" y1="1252.20" x2="1013.90" y2="1302.40" stroke="#000" stroke-width="1.2" stroke-linecap="butt"/>
</g>
<line x1="639.80" y1="825.20" x2="639.80" y2="876.80" stroke="#2b2b2b" stroke-width="1.15" stroke-linecap="butt"/>
<line x1="639.80" y1="890.70" x2="639.80" y2="945.60" stroke="#2b2b2b" stroke-width="1.15" stroke-linecap="butt"/>
<line x1="628.80" y1="825.20" x2="650.80" y2="825.20" stroke="#2b2b2b" stroke-width="1.15" stroke-linecap="butt"/>
<line x1="628.80" y1="945.60" x2="650.80" y2="945.60" stroke="#2b2b2b" stroke-width="1.15" stroke-linecap="butt"/>
<line x1="754.90" y1="857.60" x2="754.90" y2="924.80" stroke="#2b2b2b" stroke-width="1.15" stroke-linecap="butt"/>
<line x1="754.90" y1="938.70" x2="754.90" y2="1009.60" stroke="#2b2b2b" stroke-width="1.15" stroke-linecap="butt"/>
<line x1="743.90" y1="857.60" x2="765.90" y2="857.60" stroke="#2b2b2b" stroke-width="1.15" stroke-linecap="butt"/>
<line x1="743.90" y1="1009.60" x2="765.90" y2="1009.60" stroke="#2b2b2b" stroke-width="1.15" stroke-linecap="butt"/>
<line x1="985.10" y1="930.10" x2="985.10" y2="997.40" stroke="#2b2b2b" stroke-width="1.15" stroke-linecap="butt"/>
<line x1="985.10" y1="1011.30" x2="985.10" y2="1081.80" stroke="#2b2b2b" stroke-width="1.15" stroke-linecap="butt"/>
<line x1="974.10" y1="930.10" x2="996.10" y2="930.10" stroke="#2b2b2b" stroke-width="1.15" stroke-linecap="butt"/>
<line x1="974.10" y1="1081.80" x2="996.10" y2="1081.80" stroke="#2b2b2b" stroke-width="1.15" stroke-linecap="butt"/>
<line x1="639.80" y1="967.70" x2="639.80" y2="1022.10" stroke="#2b2b2b" stroke-width="1.15" stroke-linecap="butt"/>
<line x1="639.80" y1="1036.00" x2="639.80" y2="1087.00" stroke="#2b2b2b" stroke-width="1.15" stroke-linecap="butt"/>
<line x1="628.80" y1="967.70" x2="650.80" y2="967.70" stroke="#2b2b2b" stroke-width="1.15" stroke-linecap="butt"/>
<line x1="628.80" y1="1087.00" x2="650.80" y2="1087.00" stroke="#2b2b2b" stroke-width="1.15" stroke-linecap="butt"/>
<line x1="754.90" y1="986.30" x2="754.90" y2="1046.40" stroke="#2b2b2b" stroke-width="1.15" stroke-linecap="butt"/>
<line x1="754.90" y1="1060.30" x2="754.90" y2="1117.60" stroke="#2b2b2b" stroke-width="1.15" stroke-linecap="butt"/>
<line x1="743.90" y1="986.30" x2="765.90" y2="986.30" stroke="#2b2b2b" stroke-width="1.15" stroke-linecap="butt"/>
<line x1="743.90" y1="1117.60" x2="765.90" y2="1117.60" stroke="#2b2b2b" stroke-width="1.15" stroke-linecap="butt"/>
<line x1="985.10" y1="1121.50" x2="985.10" y2="1181.90" stroke="#2b2b2b" stroke-width="1.15" stroke-linecap="butt"/>
<line x1="985.10" y1="1195.80" x2="985.10" y2="1252.80" stroke="#2b2b2b" stroke-width="1.15" stroke-linecap="butt"/>
<line x1="974.10" y1="1121.50" x2="996.10" y2="1121.50" stroke="#2b2b2b" stroke-width="1.15" stroke-linecap="butt"/>
<line x1="974.10" y1="1252.80" x2="996.10" y2="1252.80" stroke="#2b2b2b" stroke-width="1.15" stroke-linecap="butt"/>
<line x1="639.80" y1="1067.80" x2="639.80" y2="1126.60" stroke="#2b2b2b" stroke-width="1.15" stroke-linecap="butt"/>
<line x1="639.80" y1="1140.50" x2="639.80" y2="1202.70" stroke="#2b2b2b" stroke-width="1.15" stroke-linecap="butt"/>
<line x1="628.80" y1="1067.80" x2="650.80" y2="1067.80" stroke="#2b2b2b" stroke-width="1.15" stroke-linecap="butt"/>
<line x1="628.80" y1="1202.70" x2="650.80" y2="1202.70" stroke="#2b2b2b" stroke-width="1.15" stroke-linecap="butt"/>
<line x1="754.90" y1="1111.10" x2="754.90" y2="1180.40" stroke="#2b2b2b" stroke-width="1.15" stroke-linecap="butt"/>
<line x1="754.90" y1="1194.30" x2="754.90" y2="1267.90" stroke="#2b2b2b" stroke-width="1.15" stroke-linecap="butt"/>
<line x1="743.90" y1="1111.10" x2="765.90" y2="1111.10" stroke="#2b2b2b" stroke-width="1.15" stroke-linecap="butt"/>
<line x1="743.90" y1="1267.90" x2="765.90" y2="1267.90" stroke="#2b2b2b" stroke-width="1.15" stroke-linecap="butt"/>
<line x1="985.10" y1="1179.80" x2="985.10" y2="1249.90" stroke="#2b2b2b" stroke-width="1.15" stroke-linecap="butt"/>
<line x1="985.10" y1="1263.80" x2="985.10" y2="1337.20" stroke="#2b2b2b" stroke-width="1.15" stroke-linecap="butt"/>
<line x1="974.10" y1="1179.80" x2="996.10" y2="1179.80" stroke="#2b2b2b" stroke-width="1.15" stroke-linecap="butt"/>
<line x1="974.10" y1="1337.20" x2="996.10" y2="1337.20" stroke="#2b2b2b" stroke-width="1.15" stroke-linecap="butt"/>
<line x1="639.80" y1="1069.10" x2="639.80" y2="1135.70" stroke="#2b2b2b" stroke-width="1.15" stroke-linecap="butt"/>
<line x1="639.80" y1="1150.30" x2="639.80" y2="1216.90" stroke="#2b2b2b" stroke-width="1.15" stroke-linecap="butt"/>
<line x1="628.80" y1="1069.10" x2="650.80" y2="1069.10" stroke="#2b2b2b" stroke-width="1.15" stroke-linecap="butt"/>
<line x1="628.80" y1="1216.90" x2="650.80" y2="1216.90" stroke="#2b2b2b" stroke-width="1.15" stroke-linecap="butt"/>
<line x1="754.90" y1="1060.20" x2="754.90" y2="1119.60" stroke="#2b2b2b" stroke-width="1.15" stroke-linecap="butt"/>
<line x1="754.90" y1="1134.20" x2="754.90" y2="1192.80" stroke="#2b2b2b" stroke-width="1.15" stroke-linecap="butt"/>
<line x1="743.90" y1="1060.20" x2="765.90" y2="1060.20" stroke="#2b2b2b" stroke-width="1.15" stroke-linecap="butt"/>
<line x1="743.90" y1="1192.80" x2="765.90" y2="1192.80" stroke="#2b2b2b" stroke-width="1.15" stroke-linecap="butt"/>
<line x1="985.10" y1="1126.90" x2="985.10" y2="1186.30" stroke="#2b2b2b" stroke-width="1.15" stroke-linecap="butt"/>
<line x1="985.10" y1="1200.90" x2="985.10" y2="1260.20" stroke="#2b2b2b" stroke-width="1.15" stroke-linecap="butt"/>
<line x1="974.10" y1="1126.90" x2="996.10" y2="1126.90" stroke="#2b2b2b" stroke-width="1.15" stroke-linecap="butt"/>
<line x1="974.10" y1="1260.20" x2="996.10" y2="1260.20" stroke="#2b2b2b" stroke-width="1.15" stroke-linecap="butt"/>
<line x1="639.80" y1="1151.10" x2="639.80" y2="1227.30" stroke="#2b2b2b" stroke-width="1.15" stroke-linecap="butt"/>
<line x1="639.80" y1="1241.90" x2="639.80" y2="1318.20" stroke="#2b2b2b" stroke-width="1.15" stroke-linecap="butt"/>
<line x1="628.80" y1="1151.10" x2="650.80" y2="1151.10" stroke="#2b2b2b" stroke-width="1.15" stroke-linecap="butt"/>
<line x1="628.80" y1="1318.20" x2="650.80" y2="1318.20" stroke="#2b2b2b" stroke-width="1.15" stroke-linecap="butt"/>
<line x1="754.90" y1="1186.90" x2="754.90" y2="1245.70" stroke="#2b2b2b" stroke-width="1.15" stroke-linecap="butt"/>
<line x1="754.90" y1="1260.30" x2="754.90" y2="1319.80" stroke="#2b2b2b" stroke-width="1.15" stroke-linecap="butt"/>
<line x1="743.90" y1="1186.90" x2="765.90" y2="1186.90" stroke="#2b2b2b" stroke-width="1.15" stroke-linecap="butt"/>
<line x1="743.90" y1="1319.80" x2="765.90" y2="1319.80" stroke="#2b2b2b" stroke-width="1.15" stroke-linecap="butt"/>
<line x1="985.10" y1="1228.10" x2="985.10" y2="1287.50" stroke="#2b2b2b" stroke-width="1.15" stroke-linecap="butt"/>
<line x1="985.10" y1="1302.10" x2="985.10" y2="1361.40" stroke="#2b2b2b" stroke-width="1.15" stroke-linecap="butt"/>
<line x1="974.10" y1="1228.10" x2="996.10" y2="1228.10" stroke="#2b2b2b" stroke-width="1.15" stroke-linecap="butt"/>
<line x1="974.10" y1="1361.40" x2="996.10" y2="1361.40" stroke="#2b2b2b" stroke-width="1.15" stroke-linecap="butt"/>
<line x1="639.80" y1="1192.80" x2="639.80" y2="1254.20" stroke="#2b2b2b" stroke-width="1.15" stroke-linecap="butt"/>
<line x1="639.80" y1="1268.10" x2="639.80" y2="1326.30" stroke="#2b2b2b" stroke-width="1.15" stroke-linecap="butt"/>
<line x1="628.80" y1="1192.80" x2="650.80" y2="1192.80" stroke="#2b2b2b" stroke-width="1.15" stroke-linecap="butt"/>
<line x1="628.80" y1="1326.30" x2="650.80" y2="1326.30" stroke="#2b2b2b" stroke-width="1.15" stroke-linecap="butt"/>
<line x1="754.90" y1="1199.10" x2="754.90" y2="1260.10" stroke="#2b2b2b" stroke-width="1.15" stroke-linecap="butt"/>
<line x1="754.90" y1="1274.00" x2="754.90" y2="1332.00" stroke="#2b2b2b" stroke-width="1.15" stroke-linecap="butt"/>
<line x1="743.90" y1="1199.10" x2="765.90" y2="1199.10" stroke="#2b2b2b" stroke-width="1.15" stroke-linecap="butt"/>
<line x1="743.90" y1="1332.00" x2="765.90" y2="1332.00" stroke="#2b2b2b" stroke-width="1.15" stroke-linecap="butt"/>
<line x1="985.10" y1="1234.20" x2="985.10" y2="1295.40" stroke="#2b2b2b" stroke-width="1.15" stroke-linecap="butt"/>
<line x1="985.10" y1="1309.30" x2="985.10" y2="1367.20" stroke="#2b2b2b" stroke-width="1.15" stroke-linecap="butt"/>
<line x1="974.10" y1="1234.20" x2="996.10" y2="1234.20" stroke="#2b2b2b" stroke-width="1.15" stroke-linecap="butt"/>
<line x1="974.10" y1="1367.20" x2="996.10" y2="1367.20" stroke="#2b2b2b" stroke-width="1.15" stroke-linecap="butt"/>
<polygon points="639.80,878.30 646.10,888.90 633.50,888.90" fill="none" stroke="#000" stroke-width="1.5" stroke-linejoin="miter" stroke-miterlimit="10"/>
<polygon points="754.90,926.30 761.20,936.90 748.60,936.90" fill="none" stroke="#000" stroke-width="1.5" stroke-linejoin="miter" stroke-miterlimit="10"/>
<polygon points="985.10,998.90 991.40,1009.50 978.80,1009.50" fill="none" stroke="#000" stroke-width="1.5" stroke-linejoin="miter" stroke-miterlimit="10"/>
<polygon points="639.80,1034.50 646.10,1023.90 633.50,1023.90" fill="none" stroke="#000" stroke-width="1.5" stroke-linejoin="miter" stroke-miterlimit="10"/>
<polygon points="754.90,1058.80 761.20,1048.20 748.60,1048.20" fill="none" stroke="#000" stroke-width="1.5" stroke-linejoin="miter" stroke-miterlimit="10"/>
<polygon points="985.10,1194.30 991.40,1183.70 978.80,1183.70" fill="none" stroke="#000" stroke-width="1.5" stroke-linejoin="miter" stroke-miterlimit="10"/>
<polygon points="639.80,1136.50 646.10,1143.00 639.80,1149.50 633.50,1143.00" fill="none" stroke="#000" stroke-width="1.5" stroke-linejoin="miter"/>
<polygon points="754.90,1120.40 761.20,1126.90 754.90,1133.40 748.60,1126.90" fill="none" stroke="#000" stroke-width="1.5" stroke-linejoin="miter"/>
<polygon points="985.10,1187.10 991.40,1193.60 985.10,1200.10 978.80,1193.60" fill="none" stroke="#000" stroke-width="1.5" stroke-linejoin="miter"/>
<polygon points="639.80,1126.90 646.80,1139.40 632.80,1139.40" fill="#000" stroke="#000" stroke-width="0.4"/>
<polygon points="754.90,1180.70 761.90,1193.20 747.90,1193.20" fill="#000" stroke="#000" stroke-width="0.4"/>
<polygon points="985.10,1250.20 992.10,1262.70 978.10,1262.70" fill="#000" stroke="#000" stroke-width="0.4"/>
<polygon points="639.80,1227.00 646.90,1234.60 639.80,1242.20 632.70,1234.60" fill="#000"/>
<polygon points="754.90,1245.40 762.00,1253.00 754.90,1260.60 747.80,1253.00" fill="#000"/>
<polygon points="985.10,1287.20 992.20,1294.80 985.10,1302.40 978.00,1294.80" fill="#000"/>
<polygon points="639.80,1267.80 646.80,1255.30 632.80,1255.30" fill="#000" stroke="#000" stroke-width="0.4"/>
<polygon points="754.90,1273.70 761.90,1261.20 747.90,1261.20" fill="#000" stroke="#000" stroke-width="0.4"/>
<polygon points="985.10,1309.00 992.10,1296.50 978.10,1296.50" fill="#000" stroke="#000" stroke-width="0.4"/>
<rect x="611.10" y="783.20" width="402.80" height="603.50" fill="none" stroke="#000" stroke-width="2.2"/>
<line x1="611.10" y1="1326.10" x2="622.10" y2="1326.10" stroke="#000" stroke-width="1.8" stroke-linecap="butt"/>
<line x1="611.10" y1="1205.40" x2="622.10" y2="1205.40" stroke="#000" stroke-width="1.8" stroke-linecap="butt"/>
<line x1="611.10" y1="1084.70" x2="622.10" y2="1084.70" stroke="#000" stroke-width="1.8" stroke-linecap="butt"/>
<line x1="611.10" y1="964.00" x2="622.10" y2="964.00" stroke="#000" stroke-width="1.8" stroke-linecap="butt"/>
<line x1="611.10" y1="843.30" x2="622.10" y2="843.30" stroke="#000" stroke-width="1.8" stroke-linecap="butt"/>
<line x1="611.10" y1="1265.75" x2="617.10" y2="1265.75" stroke="#000" stroke-width="1.8" stroke-linecap="butt"/>
<line x1="611.10" y1="1145.05" x2="617.10" y2="1145.05" stroke="#000" stroke-width="1.8" stroke-linecap="butt"/>
<line x1="611.10" y1="1024.35" x2="617.10" y2="1024.35" stroke="#000" stroke-width="1.8" stroke-linecap="butt"/>
<line x1="611.10" y1="903.65" x2="617.10" y2="903.65" stroke="#000" stroke-width="1.8" stroke-linecap="butt"/>
<line x1="1013.90" y1="1326.10" x2="1002.90" y2="1326.10" stroke="#000" stroke-width="1.8" stroke-linecap="butt"/>
<line x1="1013.90" y1="1205.40" x2="1002.90" y2="1205.40" stroke="#000" stroke-width="1.8" stroke-linecap="butt"/>
<line x1="1013.90" y1="1084.70" x2="1002.90" y2="1084.70" stroke="#000" stroke-width="1.8" stroke-linecap="butt"/>
<line x1="1013.90" y1="964.00" x2="1002.90" y2="964.00" stroke="#000" stroke-width="1.8" stroke-linecap="butt"/>
<line x1="1013.90" y1="843.30" x2="1002.90" y2="843.30" stroke="#000" stroke-width="1.8" stroke-linecap="butt"/>
<line x1="1013.90" y1="1265.75" x2="1007.90" y2="1265.75" stroke="#000" stroke-width="1.8" stroke-linecap="butt"/>
<line x1="1013.90" y1="1145.05" x2="1007.90" y2="1145.05" stroke="#000" stroke-width="1.8" stroke-linecap="butt"/>
<line x1="1013.90" y1="1024.35" x2="1007.90" y2="1024.35" stroke="#000" stroke-width="1.8" stroke-linecap="butt"/>
<line x1="1013.90" y1="903.65" x2="1007.90" y2="903.65" stroke="#000" stroke-width="1.8" stroke-linecap="butt"/>
<line x1="639.80" y1="1386.70" x2="639.80" y2="1375.20" stroke="#000" stroke-width="1.8" stroke-linecap="butt"/>
<line x1="754.90" y1="1386.70" x2="754.90" y2="1375.20" stroke="#000" stroke-width="1.8" stroke-linecap="butt"/>
<line x1="870.00" y1="1386.70" x2="870.00" y2="1375.20" stroke="#000" stroke-width="1.8" stroke-linecap="butt"/>
<line x1="985.10" y1="1386.70" x2="985.10" y2="1375.20" stroke="#000" stroke-width="1.8" stroke-linecap="butt"/>
<line x1="697.30" y1="1386.70" x2="697.30" y2="1380.70" stroke="#000" stroke-width="1.8" stroke-linecap="butt"/>
<line x1="812.40" y1="1386.70" x2="812.40" y2="1380.70" stroke="#000" stroke-width="1.8" stroke-linecap="butt"/>
<line x1="927.60" y1="1386.70" x2="927.60" y2="1380.70" stroke="#000" stroke-width="1.8" stroke-linecap="butt"/>
<line x1="639.80" y1="783.20" x2="639.80" y2="794.70" stroke="#000" stroke-width="1.8" stroke-linecap="butt"/>
<line x1="754.90" y1="783.20" x2="754.90" y2="794.70" stroke="#000" stroke-width="1.8" stroke-linecap="butt"/>
<line x1="870.00" y1="783.20" x2="870.00" y2="794.70" stroke="#000" stroke-width="1.8" stroke-linecap="butt"/>
<line x1="985.10" y1="783.20" x2="985.10" y2="794.70" stroke="#000" stroke-width="1.8" stroke-linecap="butt"/>
<line x1="697.30" y1="783.20" x2="697.30" y2="789.20" stroke="#000" stroke-width="1.8" stroke-linecap="butt"/>
<line x1="812.40" y1="783.20" x2="812.40" y2="789.20" stroke="#000" stroke-width="1.8" stroke-linecap="butt"/>
<line x1="927.60" y1="783.20" x2="927.60" y2="789.20" stroke="#000" stroke-width="1.8" stroke-linecap="butt"/>
<text x="577.20" y="1336.33" font-size="24.71" textLength="31.20" lengthAdjust="spacingAndGlyphs" fill="#000">0.0</text>
<text x="577.19" y="1215.63" font-size="24.71" textLength="31.60" lengthAdjust="spacingAndGlyphs" fill="#000">0.2</text>
<text x="577.22" y="1094.93" font-size="24.71" textLength="30.54" lengthAdjust="spacingAndGlyphs" fill="#000">0.4</text>
<text x="577.21" y="974.23" font-size="24.71" textLength="30.93" lengthAdjust="spacingAndGlyphs" fill="#000">0.6</text>
<text x="577.20" y="853.53" font-size="24.71" textLength="31.20" lengthAdjust="spacingAndGlyphs" fill="#000">0.8</text>
<text x="631.42" y="1419.86" font-size="24.44" textLength="25.29" lengthAdjust="spacingAndGlyphs" fill="#000">10</text>
<text x="746.26" y="1419.86" font-size="24.44" textLength="25.36" lengthAdjust="spacingAndGlyphs" fill="#000">20</text>
<text x="861.22" y="1419.86" font-size="24.44" textLength="25.60" lengthAdjust="spacingAndGlyphs" fill="#000">30</text>
<text x="976.50" y="1419.86" font-size="24.44" textLength="24.89" lengthAdjust="spacingAndGlyphs" fill="#000">40</text>
<text x="703.19" y="1461.80" font-size="25.70" textLength="216.18" lengthAdjust="spacingAndGlyphs">Exposure dose (Gy)</text>
<text transform="translate(562.00,1328.77) rotate(-90)" x="0" y="0" font-size="27.80" textLength="494.81" lengthAdjust="spacingAndGlyphs">Glutathione peroxidase (μM GSH/mg protein)</text>
<text x="609.25" y="772.73" font-size="26.81" textLength="13.52" lengthAdjust="spacingAndGlyphs" fill="#000">d</text>
<polygon points="827.80,795.44 835.36,808.94 820.24,808.94" fill="#000" stroke="#000" stroke-width="0.4"/>
<text x="847.19" y="814.60" font-size="20.50" textLength="151.69" lengthAdjust="spacingAndGlyphs">CMC+IR (1.5 h)</text>
<polygon points="827.80,823.73 834.60,835.18 821.00,835.18" fill="none" stroke="#000" stroke-width="1.5" stroke-linejoin="miter" stroke-miterlimit="10"/>
<text x="847.20" y="842.00" font-size="20.50" textLength="152.89" lengthAdjust="spacingAndGlyphs">CUM+IR (1.5 h)</text>
<polygon points="827.80,867.36 835.36,853.86 820.24,853.86" fill="#000" stroke="#000" stroke-width="0.4"/>
<text x="847.20" y="868.80" font-size="20.50" textLength="145.78" lengthAdjust="spacingAndGlyphs">CMC+IR (24 h)</text>
<polygon points="827.80,893.27 834.60,881.82 821.00,881.82" fill="none" stroke="#000" stroke-width="1.5" stroke-linejoin="miter" stroke-miterlimit="10"/>
<text x="847.20" y="895.80" font-size="20.50" textLength="146.99" lengthAdjust="spacingAndGlyphs">CUM+IR (24 h)</text>
<polygon points="827.80,904.99 835.47,913.20 827.80,921.41 820.13,913.20" fill="#000"/>
<text x="847.20" y="922.10" font-size="20.50" textLength="157.18" lengthAdjust="spacingAndGlyphs">CMC+IR (144 h)</text>
<polygon points="827.80,933.38 834.60,940.40 827.80,947.42 821.00,940.40" fill="none" stroke="#000" stroke-width="1.5" stroke-linejoin="miter"/>
<text x="847.19" y="948.90" font-size="20.50" textLength="158.69" lengthAdjust="spacingAndGlyphs">CUM+IR (144 h)</text>
</svg></body></html>
